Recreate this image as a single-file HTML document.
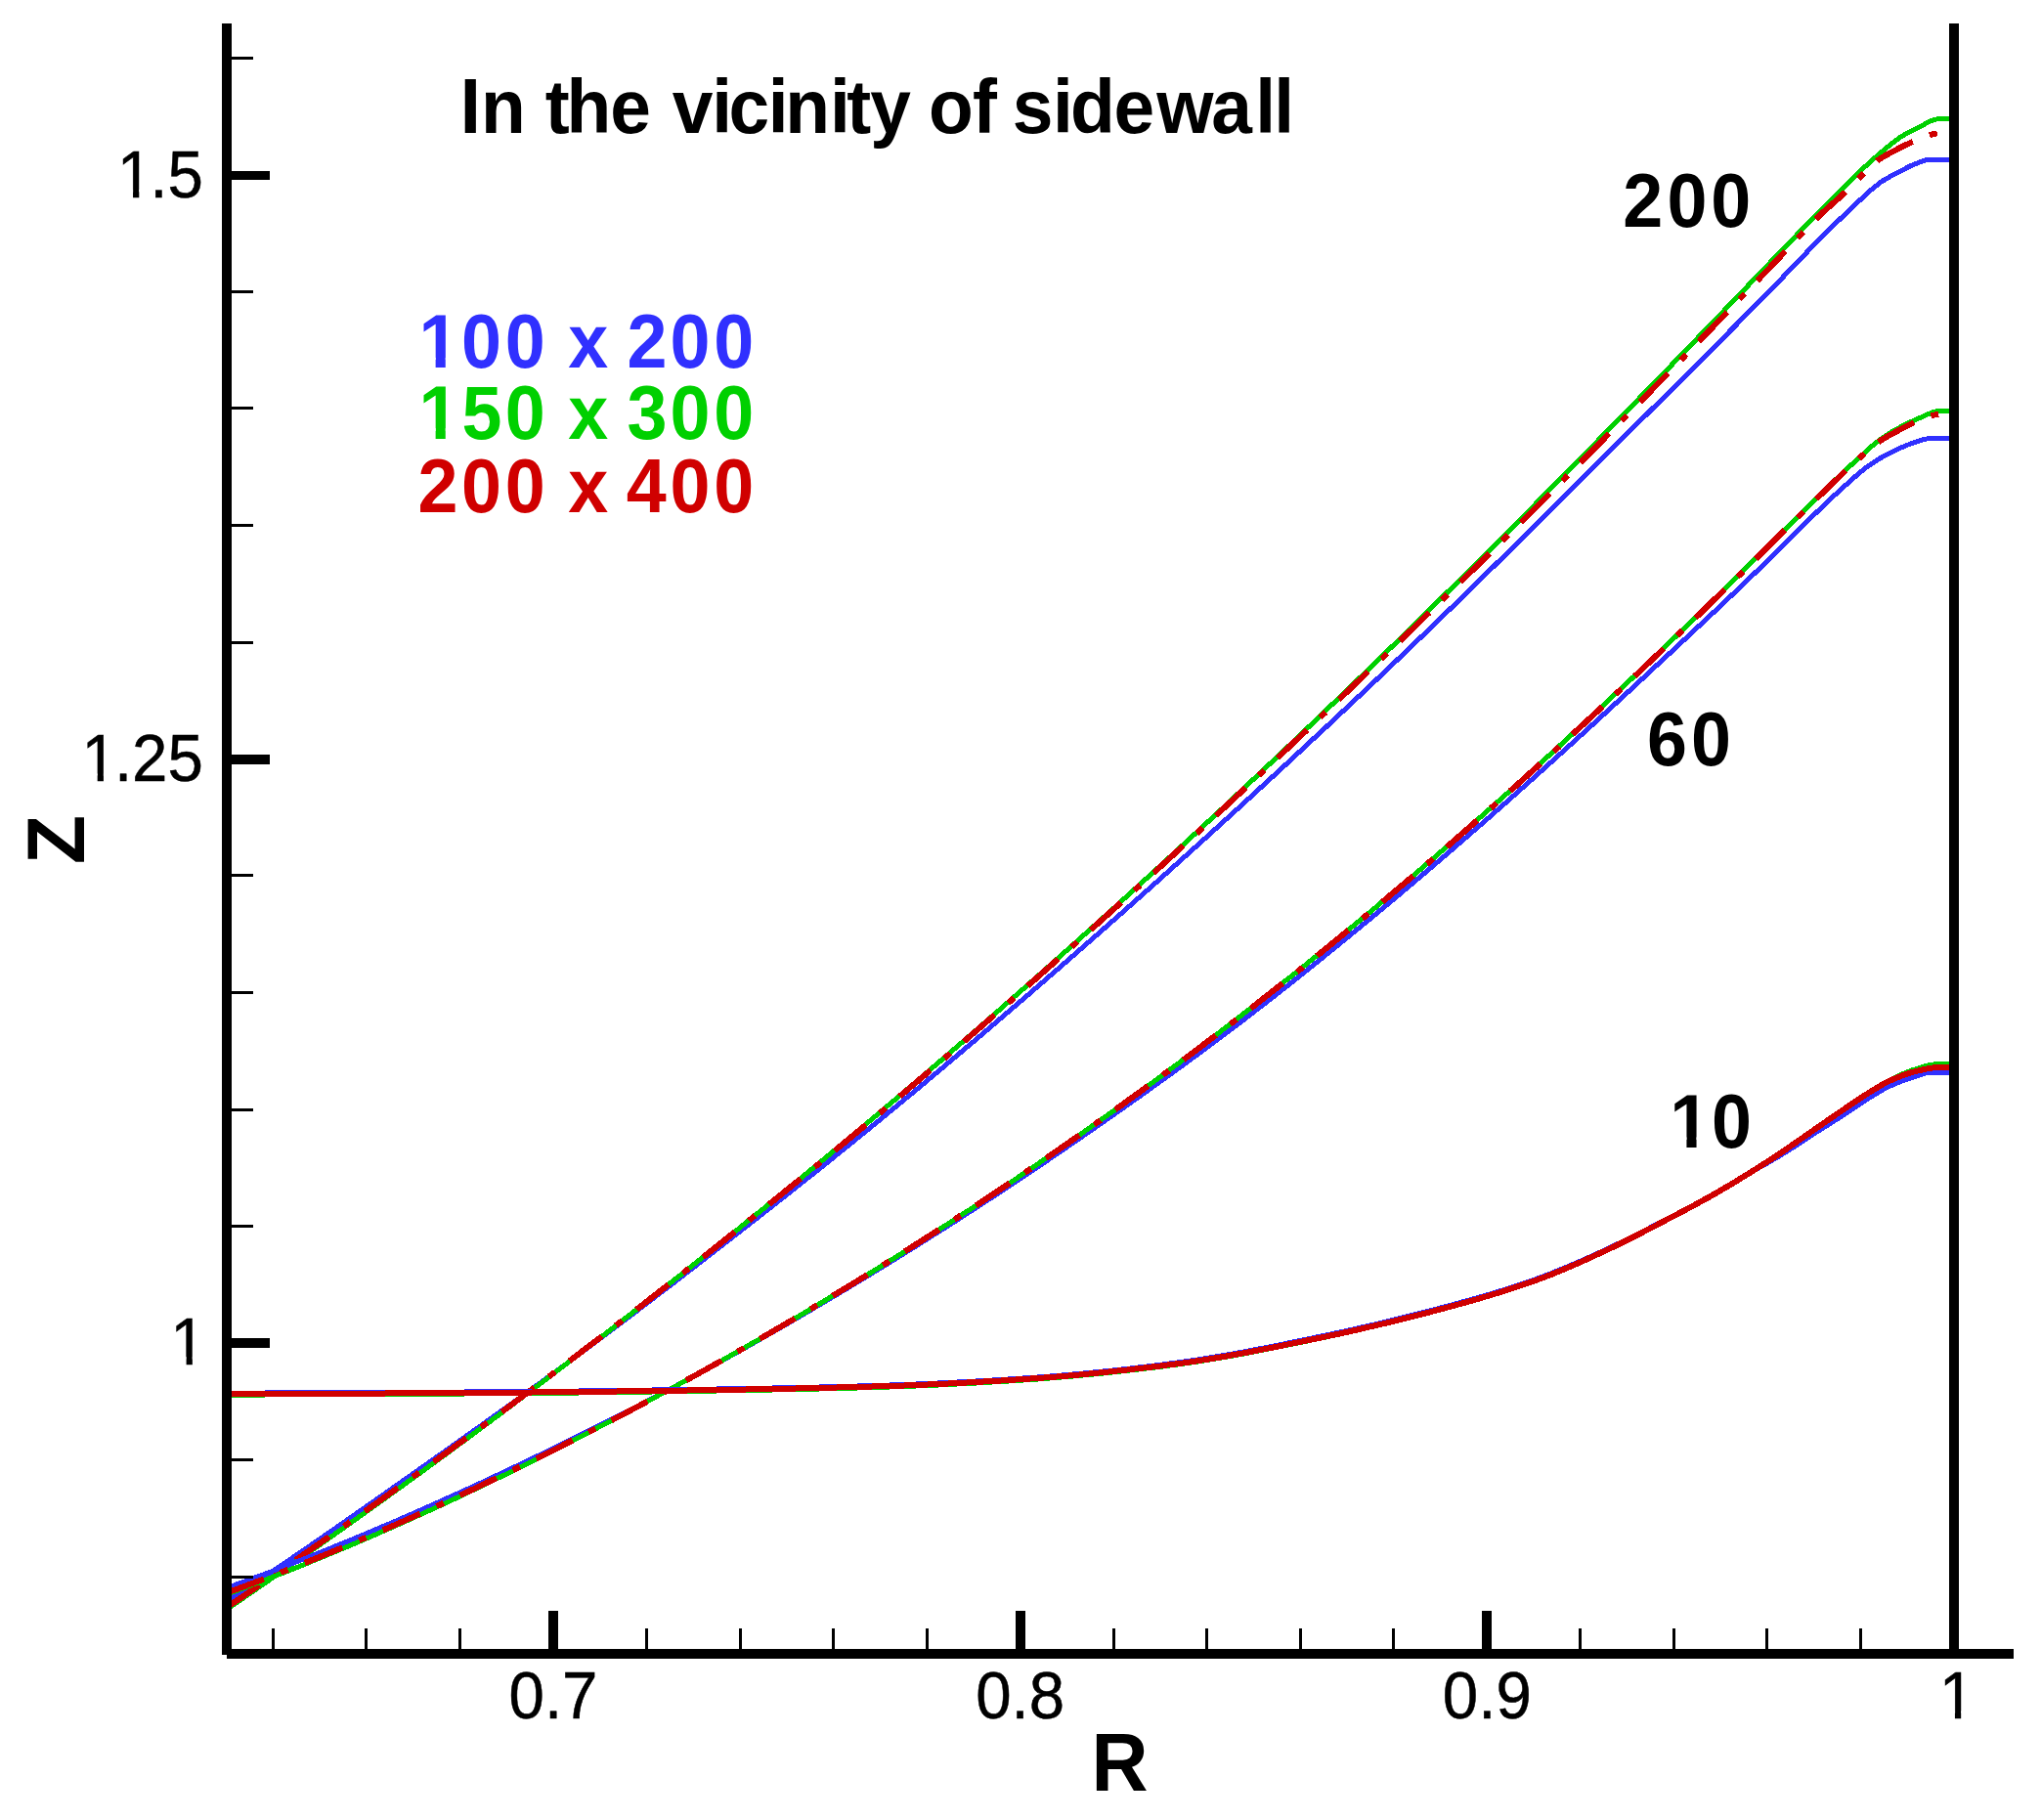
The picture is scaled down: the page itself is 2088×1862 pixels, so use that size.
<!DOCTYPE html>
<html><head><meta charset="utf-8"><title>In the vicinity of sidewall</title>
<style>
html,body{margin:0;padding:0;background:#fff;}
svg{display:block;}
text{font-family:"Liberation Sans",Arial,Helvetica,sans-serif;font-kerning:none;white-space:pre;}
</style></head>
<body>
<svg width="2088" height="1862" viewBox="0 0 2088 1862">
<rect width="2088" height="1862" fill="#fff"/>
<defs><clipPath id="plot"><rect x="232" y="24" width="1767" height="1668"/></clipPath></defs>
<g clip-path="url(#plot)" stroke-linejoin="round" shape-rendering="crispEdges">
<path d="M232.0,1638.5 L235.0,1636.6 L238.0,1634.6 L241.0,1632.6 L244.0,1630.7 L247.0,1628.7 L250.0,1626.7 L253.0,1624.7 L256.0,1622.7 L259.0,1620.8 L262.0,1618.8 L265.0,1616.8 L268.0,1614.8 L271.0,1612.8 L274.0,1610.8 L277.0,1608.8 L280.0,1606.7 L283.0,1604.7 L286.0,1602.7 L289.0,1600.7 L292.0,1598.7 L295.0,1596.6 L298.0,1594.6 L301.0,1592.5 L304.0,1590.5 L307.0,1588.4 L310.0,1586.4 L313.0,1584.3 L316.0,1582.3 L319.0,1580.2 L322.0,1578.1 L325.0,1576.1 L328.0,1574.0 L331.0,1571.9 L334.0,1569.8 L337.0,1567.8 L340.0,1565.7 L343.0,1563.6 L346.0,1561.5 L349.0,1559.4 L352.0,1557.3 L355.0,1555.2 L358.0,1553.1 L361.0,1551.0 L364.0,1548.9 L367.0,1546.8 L370.0,1544.7 L373.0,1542.6 L376.0,1540.5 L379.0,1538.4 L382.0,1536.3 L385.0,1534.2 L388.0,1532.1 L391.0,1530.0 L394.0,1527.8 L397.0,1525.7 L400.0,1523.6 L403.0,1521.5 L406.0,1519.4 L409.0,1517.3 L412.0,1515.2 L415.0,1513.1 L418.0,1511.0 L421.0,1508.8 L424.0,1506.7 L427.0,1504.6 L430.0,1502.5 L433.0,1500.4 L436.0,1498.3 L439.0,1496.2 L442.0,1494.0 L445.0,1491.9 L448.0,1489.8 L451.0,1487.7 L454.0,1485.6 L457.0,1483.4 L460.0,1481.3 L463.0,1479.2 L466.0,1477.1 L469.0,1474.9 L472.0,1472.8 L475.0,1470.7 L478.0,1468.5 L481.0,1466.4 L484.0,1464.2 L487.0,1462.1 L490.0,1460.0 L493.0,1457.8 L496.0,1455.7 L499.0,1453.5 L502.0,1451.4 L505.0,1449.2 L508.0,1447.1 L511.0,1444.9 L514.0,1442.8 L517.0,1440.6 L520.0,1438.5 L523.0,1436.3 L526.0,1434.1 L529.0,1432.0 L532.0,1429.8 L535.0,1427.6 L538.0,1425.5 L541.0,1423.3 L544.0,1421.1 L547.0,1418.9 L550.0,1416.8 L553.0,1414.6 L556.0,1412.4 L559.0,1410.2 L562.0,1408.0 L565.0,1405.8 L568.0,1403.6 L571.0,1401.4 L574.0,1399.2 L577.0,1397.0 L580.0,1394.8 L583.0,1392.5 L586.0,1390.3 L589.0,1388.1 L592.0,1385.9 L595.0,1383.6 L598.0,1381.4 L601.0,1379.2 L604.0,1376.9 L607.0,1374.7 L610.0,1372.4 L613.0,1370.2 L616.0,1367.9 L619.0,1365.7 L622.0,1363.4 L625.0,1361.2 L628.0,1358.9 L631.0,1356.7 L634.0,1354.4 L637.0,1352.1 L640.0,1349.9 L643.0,1347.6 L646.0,1345.3 L649.0,1343.0 L652.0,1340.8 L655.0,1338.5 L658.0,1336.2 L661.0,1333.9 L664.0,1331.6 L667.0,1329.3 L670.0,1327.0 L673.0,1324.7 L676.0,1322.5 L679.0,1320.2 L682.0,1317.9 L685.0,1315.6 L688.0,1313.3 L691.0,1311.0 L694.0,1308.6 L697.0,1306.3 L700.0,1304.0 L703.0,1301.7 L706.0,1299.4 L709.0,1297.1 L712.0,1294.8 L715.0,1292.5 L718.0,1290.1 L721.0,1287.8 L724.0,1285.5 L727.0,1283.2 L730.0,1280.9 L733.0,1278.5 L736.0,1276.2 L739.0,1273.9 L742.0,1271.5 L745.0,1269.2 L748.0,1266.9 L751.0,1264.5 L754.0,1262.2 L757.0,1259.9 L760.0,1257.5 L763.0,1255.2 L766.0,1252.8 L769.0,1250.5 L772.0,1248.2 L775.0,1245.8 L778.0,1243.5 L781.0,1241.1 L784.0,1238.7 L787.0,1236.4 L790.0,1234.0 L793.0,1231.7 L796.0,1229.3 L799.0,1226.9 L802.0,1224.6 L805.0,1222.2 L808.0,1219.8 L811.0,1217.5 L814.0,1215.1 L817.0,1212.7 L820.0,1210.3 L823.0,1207.9 L826.0,1205.5 L829.0,1203.2 L832.0,1200.8 L835.0,1198.4 L838.0,1196.0 L841.0,1193.6 L844.0,1191.2 L847.0,1188.8 L850.0,1186.4 L853.0,1183.9 L856.0,1181.5 L859.0,1179.1 L862.0,1176.7 L865.0,1174.3 L868.0,1171.8 L871.0,1169.4 L874.0,1167.0 L877.0,1164.5 L880.0,1162.1 L883.0,1159.7 L886.0,1157.2 L889.0,1154.8 L892.0,1152.3 L895.0,1149.9 L898.0,1147.4 L901.0,1144.9 L904.0,1142.5 L907.0,1140.0 L910.0,1137.5 L913.0,1135.1 L916.0,1132.6 L919.0,1130.1 L922.0,1127.6 L925.0,1125.1 L928.0,1122.7 L931.0,1120.2 L934.0,1117.7 L937.0,1115.2 L940.0,1112.7 L943.0,1110.2 L946.0,1107.7 L949.0,1105.2 L952.0,1102.6 L955.0,1100.1 L958.0,1097.6 L961.0,1095.1 L964.0,1092.6 L967.0,1090.0 L970.0,1087.5 L973.0,1085.0 L976.0,1082.5 L979.0,1079.9 L982.0,1077.4 L985.0,1074.8 L988.0,1072.3 L991.0,1069.8 L994.0,1067.2 L997.0,1064.7 L1000.0,1062.1 L1003.0,1059.6 L1006.0,1057.0 L1009.0,1054.4 L1012.0,1051.9 L1015.0,1049.3 L1018.0,1046.8 L1021.0,1044.2 L1024.0,1041.6 L1027.0,1039.1 L1030.0,1036.5 L1033.0,1033.9 L1036.0,1031.3 L1039.0,1028.7 L1042.0,1026.2 L1045.0,1023.6 L1048.0,1021.0 L1051.0,1018.4 L1054.0,1015.8 L1057.0,1013.2 L1060.0,1010.6 L1063.0,1008.0 L1066.0,1005.4 L1069.0,1002.8 L1072.0,1000.2 L1075.0,997.6 L1078.0,995.0 L1081.0,992.4 L1084.0,989.8 L1087.0,987.2 L1090.0,984.6 L1093.0,982.0 L1096.0,979.4 L1099.0,976.7 L1102.0,974.1 L1105.0,971.5 L1108.0,968.9 L1111.0,966.2 L1114.0,963.6 L1117.0,961.0 L1120.0,958.3 L1123.0,955.7 L1126.0,953.1 L1129.0,950.4 L1132.0,947.8 L1135.0,945.1 L1138.0,942.5 L1141.0,939.9 L1144.0,937.2 L1147.0,934.6 L1150.0,931.9 L1153.0,929.2 L1156.0,926.6 L1159.0,923.9 L1162.0,921.3 L1165.0,918.6 L1168.0,915.9 L1171.0,913.3 L1174.0,910.6 L1177.0,907.9 L1180.0,905.2 L1183.0,902.6 L1186.0,899.9 L1189.0,897.2 L1192.0,894.5 L1195.0,891.8 L1198.0,889.1 L1201.0,886.4 L1204.0,883.7 L1207.0,881.0 L1210.0,878.3 L1213.0,875.6 L1216.0,872.9 L1219.0,870.2 L1222.0,867.5 L1225.0,864.8 L1228.0,862.1 L1231.0,859.4 L1234.0,856.7 L1237.0,854.0 L1240.0,851.2 L1243.0,848.5 L1246.0,845.8 L1249.0,843.1 L1252.0,840.3 L1255.0,837.6 L1258.0,834.9 L1261.0,832.1 L1264.0,829.4 L1267.0,826.7 L1270.0,823.9 L1273.0,821.2 L1276.0,818.4 L1279.0,815.7 L1282.0,812.9 L1285.0,810.2 L1288.0,807.4 L1291.0,804.6 L1294.0,801.9 L1297.0,799.1 L1300.0,796.4 L1303.0,793.6 L1306.0,790.8 L1309.0,788.0 L1312.0,785.3 L1315.0,782.5 L1318.0,779.7 L1321.0,776.9 L1324.0,774.2 L1327.0,771.4 L1330.0,768.6 L1333.0,765.8 L1336.0,763.0 L1339.0,760.2 L1342.0,757.4 L1345.0,754.6 L1348.0,751.9 L1351.0,749.1 L1354.0,746.3 L1357.0,743.5 L1360.0,740.6 L1363.0,737.8 L1366.0,735.0 L1369.0,732.2 L1372.0,729.4 L1375.0,726.6 L1378.0,723.8 L1381.0,721.0 L1384.0,718.1 L1387.0,715.3 L1390.0,712.5 L1393.0,709.7 L1396.0,706.8 L1399.0,704.0 L1402.0,701.2 L1405.0,698.3 L1408.0,695.5 L1411.0,692.6 L1414.0,689.8 L1417.0,686.9 L1420.0,684.1 L1423.0,681.2 L1426.0,678.4 L1429.0,675.5 L1432.0,672.6 L1435.0,669.8 L1438.0,666.9 L1441.0,664.0 L1444.0,661.2 L1447.0,658.3 L1450.0,655.4 L1453.0,652.5 L1456.0,649.6 L1459.0,646.7 L1462.0,643.8 L1465.0,640.9 L1468.0,638.0 L1471.0,635.1 L1474.0,632.2 L1477.0,629.3 L1480.0,626.4 L1483.0,623.5 L1486.0,620.6 L1489.0,617.7 L1492.0,614.7 L1495.0,611.8 L1498.0,608.9 L1501.0,606.0 L1504.0,603.0 L1507.0,600.1 L1510.0,597.1 L1513.0,594.2 L1516.0,591.3 L1519.0,588.3 L1522.0,585.4 L1525.0,582.4 L1528.0,579.5 L1531.0,576.5 L1534.0,573.6 L1537.0,570.6 L1540.0,567.6 L1543.0,564.7 L1546.0,561.7 L1549.0,558.8 L1552.0,555.8 L1555.0,552.8 L1558.0,549.9 L1561.0,546.9 L1564.0,543.9 L1567.0,540.9 L1570.0,538.0 L1573.0,535.0 L1576.0,532.0 L1579.0,529.0 L1582.0,526.0 L1585.0,523.1 L1588.0,520.1 L1591.0,517.1 L1594.0,514.1 L1597.0,511.1 L1600.0,508.1 L1603.0,505.1 L1606.0,502.1 L1609.0,499.2 L1612.0,496.2 L1615.0,493.2 L1618.0,490.2 L1621.0,487.2 L1624.0,484.2 L1627.0,481.2 L1630.0,478.2 L1633.0,475.2 L1636.0,472.2 L1639.0,469.2 L1642.0,466.2 L1645.0,463.2 L1648.0,460.2 L1651.0,457.3 L1654.0,454.3 L1657.0,451.3 L1660.0,448.3 L1663.0,445.3 L1666.0,442.3 L1669.0,439.3 L1672.0,436.4 L1675.0,433.4 L1678.0,430.4 L1681.0,427.4 L1684.0,424.5 L1687.0,421.5 L1690.0,418.5 L1693.0,415.6 L1696.0,412.6 L1699.0,409.6 L1702.0,406.6 L1705.0,403.7 L1708.0,400.7 L1711.0,397.7 L1714.0,394.7 L1717.0,391.7 L1720.0,388.7 L1723.0,385.7 L1726.0,382.7 L1729.0,379.7 L1732.0,376.7 L1735.0,373.7 L1738.0,370.7 L1741.0,367.7 L1744.0,364.7 L1747.0,361.7 L1750.0,358.7 L1753.0,355.6 L1756.0,352.6 L1759.0,349.6 L1762.0,346.6 L1765.0,343.6 L1768.0,340.6 L1771.0,337.5 L1774.0,334.5 L1777.0,331.5 L1780.0,328.4 L1783.0,325.4 L1786.0,322.4 L1789.0,319.3 L1792.0,316.3 L1795.0,313.2 L1798.0,310.2 L1801.0,307.1 L1804.0,304.0 L1807.0,301.0 L1810.0,297.9 L1813.0,294.8 L1816.0,291.8 L1819.0,288.7 L1822.0,285.6 L1825.0,282.5 L1828.0,279.4 L1831.0,276.3 L1834.0,273.2 L1837.0,270.0 L1840.0,266.9 L1843.0,263.8 L1846.0,260.7 L1849.0,257.5 L1852.0,254.4 L1855.0,251.4 L1858.0,248.3 L1861.0,245.2 L1864.0,242.2 L1867.0,239.2 L1870.0,236.2 L1873.0,233.3 L1876.0,230.3 L1879.0,227.4 L1882.0,224.5 L1885.0,221.6 L1888.0,218.7 L1891.0,215.9 L1894.0,213.1 L1897.0,210.2 L1900.0,207.4 L1903.0,204.5 L1906.0,201.7 L1909.0,198.9 L1912.0,196.3 L1915.0,193.6 L1918.0,191.2 L1921.0,188.8 L1924.0,186.5 L1927.0,184.5 L1930.0,182.7 L1933.0,181.0 L1936.0,179.4 L1939.0,177.9 L1942.0,176.3 L1945.0,174.7 L1948.0,173.1 L1951.0,171.5 L1954.0,170.0 L1957.0,168.7 L1960.0,167.5 L1963.0,166.3 L1966.0,165.1 L1969.0,164.1 L1972.0,163.5 L1975.0,163.4 L1978.0,163.4 L1981.0,163.4 L1984.0,163.4 L1987.0,163.4 L1990.0,163.4 L1993.0,163.4 L1996.0,163.4 L1999.0,163.4" fill="none" stroke="#3030ff" stroke-width="5.0"/>
<path d="M232.0,1646.5 L235.0,1644.5 L238.0,1642.4 L241.0,1640.4 L244.0,1638.3 L247.0,1636.2 L250.0,1634.2 L253.0,1632.1 L256.0,1630.0 L259.0,1628.0 L262.0,1625.9 L265.0,1623.8 L268.0,1621.8 L271.0,1619.7 L274.0,1617.6 L277.0,1615.5 L280.0,1613.4 L283.0,1611.3 L286.0,1609.3 L289.0,1607.2 L292.0,1605.1 L295.0,1603.0 L298.0,1600.9 L301.0,1598.8 L304.0,1596.7 L307.0,1594.6 L310.0,1592.5 L313.0,1590.4 L316.0,1588.3 L319.0,1586.2 L322.0,1584.1 L325.0,1582.0 L328.0,1579.8 L331.0,1577.7 L334.0,1575.6 L337.0,1573.5 L340.0,1571.4 L343.0,1569.2 L346.0,1567.1 L349.0,1565.0 L352.0,1562.9 L355.0,1560.7 L358.0,1558.6 L361.0,1556.5 L364.0,1554.3 L367.0,1552.2 L370.0,1550.0 L373.0,1547.9 L376.0,1545.8 L379.0,1543.6 L382.0,1541.5 L385.0,1539.3 L388.0,1537.2 L391.0,1535.0 L394.0,1532.8 L397.0,1530.7 L400.0,1528.5 L403.0,1526.4 L406.0,1524.2 L409.0,1522.0 L412.0,1519.9 L415.0,1517.7 L418.0,1515.5 L421.0,1513.3 L424.0,1511.2 L427.0,1509.0 L430.0,1506.8 L433.0,1504.6 L436.0,1502.4 L439.0,1500.2 L442.0,1498.1 L445.0,1495.9 L448.0,1493.7 L451.0,1491.5 L454.0,1489.3 L457.0,1487.1 L460.0,1484.9 L463.0,1482.7 L466.0,1480.4 L469.0,1478.2 L472.0,1476.0 L475.0,1473.8 L478.0,1471.6 L481.0,1469.4 L484.0,1467.1 L487.0,1464.9 L490.0,1462.7 L493.0,1460.5 L496.0,1458.2 L499.0,1456.0 L502.0,1453.8 L505.0,1451.5 L508.0,1449.3 L511.0,1447.0 L514.0,1444.8 L517.0,1442.5 L520.0,1440.3 L523.0,1438.0 L526.0,1435.8 L529.0,1433.5 L532.0,1431.3 L535.0,1429.0 L538.0,1426.7 L541.0,1424.5 L544.0,1422.2 L547.0,1419.9 L550.0,1417.7 L553.0,1415.4 L556.0,1413.1 L559.0,1410.8 L562.0,1408.5 L565.0,1406.3 L568.0,1404.0 L571.0,1401.7 L574.0,1399.4 L577.0,1397.1 L580.0,1394.8 L583.0,1392.5 L586.0,1390.2 L589.0,1387.9 L592.0,1385.6 L595.0,1383.3 L598.0,1381.0 L601.0,1378.7 L604.0,1376.4 L607.0,1374.1 L610.0,1371.8 L613.0,1369.4 L616.0,1367.1 L619.0,1364.8 L622.0,1362.5 L625.0,1360.2 L628.0,1357.8 L631.0,1355.5 L634.0,1353.2 L637.0,1350.8 L640.0,1348.5 L643.0,1346.2 L646.0,1343.8 L649.0,1341.5 L652.0,1339.2 L655.0,1336.8 L658.0,1334.5 L661.0,1332.1 L664.0,1329.8 L667.0,1327.4 L670.0,1325.1 L673.0,1322.7 L676.0,1320.4 L679.0,1318.0 L682.0,1315.6 L685.0,1313.3 L688.0,1310.9 L691.0,1308.5 L694.0,1306.2 L697.0,1303.8 L700.0,1301.4 L703.0,1299.1 L706.0,1296.7 L709.0,1294.3 L712.0,1291.9 L715.0,1289.5 L718.0,1287.2 L721.0,1284.8 L724.0,1282.4 L727.0,1280.0 L730.0,1277.6 L733.0,1275.2 L736.0,1272.8 L739.0,1270.4 L742.0,1268.0 L745.0,1265.6 L748.0,1263.2 L751.0,1260.8 L754.0,1258.4 L757.0,1256.0 L760.0,1253.5 L763.0,1251.1 L766.0,1248.7 L769.0,1246.3 L772.0,1243.9 L775.0,1241.4 L778.0,1239.0 L781.0,1236.6 L784.0,1234.1 L787.0,1231.7 L790.0,1229.3 L793.0,1226.8 L796.0,1224.4 L799.0,1221.9 L802.0,1219.5 L805.0,1217.0 L808.0,1214.6 L811.0,1212.1 L814.0,1209.7 L817.0,1207.2 L820.0,1204.7 L823.0,1202.3 L826.0,1199.8 L829.0,1197.3 L832.0,1194.9 L835.0,1192.4 L838.0,1189.9 L841.0,1187.4 L844.0,1185.0 L847.0,1182.5 L850.0,1180.0 L853.0,1177.5 L856.0,1175.0 L859.0,1172.5 L862.0,1170.0 L865.0,1167.5 L868.0,1165.0 L871.0,1162.5 L874.0,1160.0 L877.0,1157.5 L880.0,1155.0 L883.0,1152.5 L886.0,1150.0 L889.0,1147.5 L892.0,1144.9 L895.0,1142.4 L898.0,1139.9 L901.0,1137.4 L904.0,1134.8 L907.0,1132.3 L910.0,1129.8 L913.0,1127.2 L916.0,1124.7 L919.0,1122.2 L922.0,1119.6 L925.0,1117.1 L928.0,1114.5 L931.0,1112.0 L934.0,1109.4 L937.0,1106.9 L940.0,1104.3 L943.0,1101.8 L946.0,1099.2 L949.0,1096.6 L952.0,1094.1 L955.0,1091.5 L958.0,1088.9 L961.0,1086.4 L964.0,1083.8 L967.0,1081.2 L970.0,1078.6 L973.0,1076.0 L976.0,1073.5 L979.0,1070.9 L982.0,1068.3 L985.0,1065.7 L988.0,1063.1 L991.0,1060.5 L994.0,1057.9 L997.0,1055.3 L1000.0,1052.7 L1003.0,1050.1 L1006.0,1047.5 L1009.0,1044.9 L1012.0,1042.3 L1015.0,1039.6 L1018.0,1037.0 L1021.0,1034.4 L1024.0,1031.8 L1027.0,1029.2 L1030.0,1026.5 L1033.0,1023.9 L1036.0,1021.3 L1039.0,1018.6 L1042.0,1016.0 L1045.0,1013.4 L1048.0,1010.7 L1051.0,1008.1 L1054.0,1005.4 L1057.0,1002.8 L1060.0,1000.1 L1063.0,997.5 L1066.0,994.8 L1069.0,992.2 L1072.0,989.5 L1075.0,986.8 L1078.0,984.2 L1081.0,981.5 L1084.0,978.8 L1087.0,976.2 L1090.0,973.5 L1093.0,970.8 L1096.0,968.1 L1099.0,965.5 L1102.0,962.8 L1105.0,960.1 L1108.0,957.4 L1111.0,954.7 L1114.0,952.0 L1117.0,949.3 L1120.0,946.6 L1123.0,943.9 L1126.0,941.2 L1129.0,938.5 L1132.0,935.8 L1135.0,933.1 L1138.0,930.4 L1141.0,927.7 L1144.0,925.0 L1147.0,922.2 L1150.0,919.5 L1153.0,916.8 L1156.0,914.1 L1159.0,911.3 L1162.0,908.6 L1165.0,905.9 L1168.0,903.2 L1171.0,900.4 L1174.0,897.7 L1177.0,894.9 L1180.0,892.2 L1183.0,889.4 L1186.0,886.7 L1189.0,883.9 L1192.0,881.2 L1195.0,878.4 L1198.0,875.7 L1201.0,872.9 L1204.0,870.2 L1207.0,867.4 L1210.0,864.6 L1213.0,861.9 L1216.0,859.1 L1219.0,856.3 L1222.0,853.5 L1225.0,850.8 L1228.0,848.0 L1231.0,845.2 L1234.0,842.4 L1237.0,839.6 L1240.0,836.8 L1243.0,834.0 L1246.0,831.2 L1249.0,828.5 L1252.0,825.7 L1255.0,822.9 L1258.0,820.0 L1261.0,817.2 L1264.0,814.4 L1267.0,811.6 L1270.0,808.8 L1273.0,806.0 L1276.0,803.2 L1279.0,800.4 L1282.0,797.5 L1285.0,794.7 L1288.0,791.9 L1291.0,789.1 L1294.0,786.2 L1297.0,783.4 L1300.0,780.6 L1303.0,777.7 L1306.0,774.9 L1309.0,772.1 L1312.0,769.2 L1315.0,766.4 L1318.0,763.5 L1321.0,760.7 L1324.0,757.8 L1327.0,755.0 L1330.0,752.1 L1333.0,749.2 L1336.0,746.4 L1339.0,743.5 L1342.0,740.7 L1345.0,737.8 L1348.0,734.9 L1351.0,732.0 L1354.0,729.2 L1357.0,726.3 L1360.0,723.4 L1363.0,720.5 L1366.0,717.7 L1369.0,714.8 L1372.0,711.9 L1375.0,709.0 L1378.0,706.1 L1381.0,703.2 L1384.0,700.3 L1387.0,697.4 L1390.0,694.5 L1393.0,691.6 L1396.0,688.7 L1399.0,685.8 L1402.0,682.9 L1405.0,680.0 L1408.0,677.1 L1411.0,674.2 L1414.0,671.2 L1417.0,668.3 L1420.0,665.4 L1423.0,662.5 L1426.0,659.6 L1429.0,656.6 L1432.0,653.7 L1435.0,650.8 L1438.0,647.8 L1441.0,644.9 L1444.0,642.0 L1447.0,639.0 L1450.0,636.1 L1453.0,633.1 L1456.0,630.2 L1459.0,627.2 L1462.0,624.3 L1465.0,621.3 L1468.0,618.4 L1471.0,615.4 L1474.0,612.5 L1477.0,609.5 L1480.0,606.5 L1483.0,603.6 L1486.0,600.6 L1489.0,597.6 L1492.0,594.6 L1495.0,591.7 L1498.0,588.7 L1501.0,585.7 L1504.0,582.7 L1507.0,579.7 L1510.0,576.8 L1513.0,573.8 L1516.0,570.8 L1519.0,567.8 L1522.0,564.8 L1525.0,561.8 L1528.0,558.8 L1531.0,555.8 L1534.0,552.8 L1537.0,549.8 L1540.0,546.8 L1543.0,543.7 L1546.0,540.7 L1549.0,537.7 L1552.0,534.7 L1555.0,531.7 L1558.0,528.7 L1561.0,525.6 L1564.0,522.6 L1567.0,519.6 L1570.0,516.6 L1573.0,513.5 L1576.0,510.5 L1579.0,507.5 L1582.0,504.4 L1585.0,501.4 L1588.0,498.4 L1591.0,495.3 L1594.0,492.3 L1597.0,489.2 L1600.0,486.2 L1603.0,483.1 L1606.0,480.1 L1609.0,477.0 L1612.0,474.0 L1615.0,470.9 L1618.0,467.9 L1621.0,464.8 L1624.0,461.8 L1627.0,458.7 L1630.0,455.7 L1633.0,452.6 L1636.0,449.5 L1639.0,446.5 L1642.0,443.4 L1645.0,440.4 L1648.0,437.3 L1651.0,434.2 L1654.0,431.1 L1657.0,428.1 L1660.0,425.0 L1663.0,421.9 L1666.0,418.8 L1669.0,415.8 L1672.0,412.7 L1675.0,409.6 L1678.0,406.5 L1681.0,403.4 L1684.0,400.3 L1687.0,397.3 L1690.0,394.2 L1693.0,391.1 L1696.0,388.0 L1699.0,384.9 L1702.0,381.8 L1705.0,378.7 L1708.0,375.6 L1711.0,372.5 L1714.0,369.4 L1717.0,366.3 L1720.0,363.2 L1723.0,360.1 L1726.0,357.0 L1729.0,353.9 L1732.0,350.7 L1735.0,347.6 L1738.0,344.5 L1741.0,341.4 L1744.0,338.3 L1747.0,335.2 L1750.0,332.1 L1753.0,328.9 L1756.0,325.8 L1759.0,322.7 L1762.0,319.6 L1765.0,316.5 L1768.0,313.3 L1771.0,310.2 L1774.0,307.1 L1777.0,304.0 L1780.0,300.9 L1783.0,297.7 L1786.0,294.6 L1789.0,291.5 L1792.0,288.4 L1795.0,285.3 L1798.0,282.1 L1801.0,279.0 L1804.0,275.9 L1807.0,272.8 L1810.0,269.6 L1813.0,266.5 L1816.0,263.4 L1819.0,260.3 L1822.0,257.2 L1825.0,254.1 L1828.0,251.0 L1831.0,247.9 L1834.0,244.8 L1837.0,241.6 L1840.0,238.5 L1843.0,235.4 L1846.0,232.3 L1849.0,229.2 L1852.0,226.1 L1855.0,223.0 L1858.0,220.0 L1861.0,216.9 L1864.0,213.8 L1867.0,210.8 L1870.0,207.7 L1873.0,204.7 L1876.0,201.7 L1879.0,198.7 L1882.0,195.7 L1885.0,192.7 L1888.0,189.7 L1891.0,186.8 L1894.0,183.8 L1897.0,180.9 L1900.0,178.0 L1903.0,175.2 L1906.0,172.3 L1909.0,169.6 L1912.0,166.8 L1915.0,164.1 L1918.0,161.5 L1921.0,158.8 L1924.0,156.3 L1927.0,153.8 L1930.0,151.3 L1933.0,148.8 L1936.0,146.3 L1939.0,144.0 L1942.0,141.8 L1945.0,139.8 L1948.0,138.0 L1951.0,136.4 L1954.0,134.9 L1957.0,133.4 L1960.0,131.9 L1963.0,130.4 L1966.0,128.8 L1969.0,127.0 L1972.0,125.3 L1975.0,123.8 L1978.0,122.7 L1981.0,122.0 L1984.0,121.5 L1987.0,121.5 L1990.0,121.5 L1993.0,121.5 L1996.0,121.5 L1999.0,121.5" fill="none" stroke="#00d000" stroke-width="5.0"/>
<path d="M232.0,1644.5 L235.0,1642.5 L238.0,1640.4 L241.0,1638.4 L244.0,1636.3 L247.0,1634.3 L250.0,1632.2 L253.0,1630.2 L256.0,1628.1 L259.0,1626.1 L262.0,1624.0 L265.0,1621.9 L268.0,1619.9 L271.0,1617.8 L274.0,1615.7 L277.0,1613.7 L280.0,1611.6 L283.0,1609.5 L286.0,1607.4 L289.0,1605.4 L292.0,1603.3 L295.0,1601.2 L298.0,1599.1 L301.0,1597.0 L304.0,1594.9 L307.0,1592.8 L310.0,1590.8 L313.0,1588.7 L316.0,1586.6 L319.0,1584.5 L322.0,1582.4 L325.0,1580.3 L328.0,1578.2 L331.0,1576.1 L334.0,1574.0 L337.0,1571.9 L340.0,1569.7 L343.0,1567.6 L346.0,1565.5 L349.0,1563.4 L352.0,1561.3 L355.0,1559.2 L358.0,1557.0 L361.0,1554.9 L364.0,1552.8 L367.0,1550.7 L370.0,1548.5 L373.0,1546.4 L376.0,1544.3 L379.0,1542.1 L382.0,1540.0 L385.0,1537.9 L388.0,1535.7 L391.0,1533.6 L394.0,1531.4 L397.0,1529.3 L400.0,1527.1 L403.0,1525.0 L406.0,1522.8 L409.0,1520.7 L412.0,1518.5 L415.0,1516.3 L418.0,1514.2 L421.0,1512.0 L424.0,1509.9 L427.0,1507.7 L430.0,1505.5 L433.0,1503.3 L436.0,1501.2 L439.0,1499.0 L442.0,1496.8 L445.0,1494.6 L448.0,1492.5 L451.0,1490.3 L454.0,1488.1 L457.0,1485.9 L460.0,1483.7 L463.0,1481.5 L466.0,1479.3 L469.0,1477.1 L472.0,1474.9 L475.0,1472.7 L478.0,1470.5 L481.0,1468.3 L484.0,1466.1 L487.0,1463.9 L490.0,1461.7 L493.0,1459.5 L496.0,1457.3 L499.0,1455.0 L502.0,1452.8 L505.0,1450.6 L508.0,1448.4 L511.0,1446.1 L514.0,1443.9 L517.0,1441.7 L520.0,1439.5 L523.0,1437.2 L526.0,1435.0 L529.0,1432.7 L532.0,1430.5 L535.0,1428.3 L538.0,1426.0 L541.0,1423.8 L544.0,1421.5 L547.0,1419.3 L550.0,1417.0 L553.0,1414.8 L556.0,1412.5 L559.0,1410.2 L562.0,1408.0 L565.0,1405.7 L568.0,1403.4 L571.0,1401.2 L574.0,1398.9 L577.0,1396.6 L580.0,1394.3 L583.0,1392.1 L586.0,1389.8 L589.0,1387.5 L592.0,1385.2 L595.0,1382.9 L598.0,1380.6 L601.0,1378.3 L604.0,1376.0 L607.0,1373.8 L610.0,1371.5 L613.0,1369.2 L616.0,1366.8 L619.0,1364.5 L622.0,1362.2 L625.0,1359.9 L628.0,1357.6 L631.0,1355.3 L634.0,1353.0 L637.0,1350.7 L640.0,1348.3 L643.0,1346.0 L646.0,1343.7 L649.0,1341.4 L652.0,1339.0 L655.0,1336.7 L658.0,1334.4 L661.0,1332.0 L664.0,1329.7 L667.0,1327.3 L670.0,1325.0 L673.0,1322.7 L676.0,1320.3 L679.0,1318.0 L682.0,1315.6 L685.0,1313.2 L688.0,1310.9 L691.0,1308.5 L694.0,1306.2 L697.0,1303.8 L700.0,1301.4 L703.0,1299.1 L706.0,1296.7 L709.0,1294.3 L712.0,1291.9 L715.0,1289.6 L718.0,1287.2 L721.0,1284.8 L724.0,1282.4 L727.0,1280.0 L730.0,1277.7 L733.0,1275.3 L736.0,1272.9 L739.0,1270.5 L742.0,1268.1 L745.0,1265.7 L748.0,1263.3 L751.0,1260.9 L754.0,1258.5 L757.0,1256.1 L760.0,1253.7 L763.0,1251.3 L766.0,1248.9 L769.0,1246.5 L772.0,1244.0 L775.0,1241.6 L778.0,1239.2 L781.0,1236.8 L784.0,1234.4 L787.0,1231.9 L790.0,1229.5 L793.0,1227.1 L796.0,1224.7 L799.0,1222.2 L802.0,1219.8 L805.0,1217.3 L808.0,1214.9 L811.0,1212.5 L814.0,1210.0 L817.0,1207.6 L820.0,1205.1 L823.0,1202.7 L826.0,1200.2 L829.0,1197.8 L832.0,1195.3 L835.0,1192.8 L838.0,1190.4 L841.0,1187.9 L844.0,1185.4 L847.0,1183.0 L850.0,1180.5 L853.0,1178.0 L856.0,1175.5 L859.0,1173.0 L862.0,1170.6 L865.0,1168.1 L868.0,1165.6 L871.0,1163.1 L874.0,1160.6 L877.0,1158.1 L880.0,1155.6 L883.0,1153.1 L886.0,1150.6 L889.0,1148.1 L892.0,1145.6 L895.0,1143.1 L898.0,1140.5 L901.0,1138.0 L904.0,1135.5 L907.0,1133.0 L910.0,1130.4 L913.0,1127.9 L916.0,1125.4 L919.0,1122.9 L922.0,1120.3 L925.0,1117.8 L928.0,1115.2 L931.0,1112.7 L934.0,1110.1 L937.0,1107.6 L940.0,1105.0 L943.0,1102.5 L946.0,1099.9 L949.0,1097.4 L952.0,1094.8 L955.0,1092.3 L958.0,1089.7 L961.0,1087.1 L964.0,1084.6 L967.0,1082.0 L970.0,1079.4 L973.0,1076.8 L976.0,1074.2 L979.0,1071.7 L982.0,1069.1 L985.0,1066.5 L988.0,1063.9 L991.0,1061.3 L994.0,1058.7 L997.0,1056.1 L1000.0,1053.5 L1003.0,1050.9 L1006.0,1048.3 L1009.0,1045.7 L1012.0,1043.1 L1015.0,1040.5 L1018.0,1037.9 L1021.0,1035.3 L1024.0,1032.6 L1027.0,1030.0 L1030.0,1027.4 L1033.0,1024.8 L1036.0,1022.1 L1039.0,1019.5 L1042.0,1016.9 L1045.0,1014.2 L1048.0,1011.6 L1051.0,1009.0 L1054.0,1006.3 L1057.0,1003.7 L1060.0,1001.0 L1063.0,998.4 L1066.0,995.7 L1069.0,993.1 L1072.0,990.4 L1075.0,987.8 L1078.0,985.1 L1081.0,982.4 L1084.0,979.8 L1087.0,977.1 L1090.0,974.4 L1093.0,971.8 L1096.0,969.1 L1099.0,966.4 L1102.0,963.7 L1105.0,961.0 L1108.0,958.4 L1111.0,955.7 L1114.0,953.0 L1117.0,950.3 L1120.0,947.6 L1123.0,944.9 L1126.0,942.2 L1129.0,939.5 L1132.0,936.8 L1135.0,934.1 L1138.0,931.4 L1141.0,928.7 L1144.0,926.0 L1147.0,923.2 L1150.0,920.5 L1153.0,917.8 L1156.0,915.1 L1159.0,912.4 L1162.0,909.6 L1165.0,906.9 L1168.0,904.2 L1171.0,901.4 L1174.0,898.7 L1177.0,896.0 L1180.0,893.2 L1183.0,890.5 L1186.0,887.7 L1189.0,885.0 L1192.0,882.3 L1195.0,879.5 L1198.0,876.7 L1201.0,874.0 L1204.0,871.2 L1207.0,868.5 L1210.0,865.7 L1213.0,862.9 L1216.0,860.2 L1219.0,857.4 L1222.0,854.6 L1225.0,851.9 L1228.0,849.1 L1231.0,846.3 L1234.0,843.5 L1237.0,840.8 L1240.0,838.0 L1243.0,835.2 L1246.0,832.4 L1249.0,829.6 L1252.0,826.8 L1255.0,824.0 L1258.0,821.2 L1261.0,818.4 L1264.0,815.6 L1267.0,812.8 L1270.0,810.0 L1273.0,807.2 L1276.0,804.4 L1279.0,801.6 L1282.0,798.8 L1285.0,796.0 L1288.0,793.1 L1291.0,790.3 L1294.0,787.5 L1297.0,784.7 L1300.0,781.9 L1303.0,779.0 L1306.0,776.2 L1309.0,773.4 L1312.0,770.5 L1315.0,767.7 L1318.0,764.9 L1321.0,762.0 L1324.0,759.2 L1327.0,756.3 L1330.0,753.5 L1333.0,750.7 L1336.0,747.8 L1339.0,745.0 L1342.0,742.1 L1345.0,739.3 L1348.0,736.4 L1351.0,733.6 L1354.0,730.7 L1357.0,727.9 L1360.0,725.0 L1363.0,722.1 L1366.0,719.3 L1369.0,716.4 L1372.0,713.6 L1375.0,710.7 L1378.0,707.8 L1381.0,704.9 L1384.0,702.1 L1387.0,699.2 L1390.0,696.3 L1393.0,693.5 L1396.0,690.6 L1399.0,687.7 L1402.0,684.8 L1405.0,681.9 L1408.0,679.0 L1411.0,676.2 L1414.0,673.3 L1417.0,670.4 L1420.0,667.5 L1423.0,664.6 L1426.0,661.7 L1429.0,658.8 L1432.0,655.9 L1435.0,653.0 L1438.0,650.1 L1441.0,647.2 L1444.0,644.3 L1447.0,641.4 L1450.0,638.5 L1453.0,635.5 L1456.0,632.6 L1459.0,629.7 L1462.0,626.8 L1465.0,623.9 L1468.0,620.9 L1471.0,618.0 L1474.0,615.1 L1477.0,612.2 L1480.0,609.2 L1483.0,606.3 L1486.0,603.4 L1489.0,600.4 L1492.0,597.5 L1495.0,594.6 L1498.0,591.6 L1501.0,588.7 L1504.0,585.7 L1507.0,582.8 L1510.0,579.8 L1513.0,576.9 L1516.0,573.9 L1519.0,570.9 L1522.0,568.0 L1525.0,565.0 L1528.0,562.1 L1531.0,559.1 L1534.0,556.1 L1537.0,553.2 L1540.0,550.2 L1543.0,547.2 L1546.0,544.2 L1549.0,541.3 L1552.0,538.3 L1555.0,535.3 L1558.0,532.3 L1561.0,529.3 L1564.0,526.3 L1567.0,523.3 L1570.0,520.3 L1573.0,517.3 L1576.0,514.3 L1579.0,511.3 L1582.0,508.3 L1585.0,505.3 L1588.0,502.3 L1591.0,499.3 L1594.0,496.3 L1597.0,493.3 L1600.0,490.3 L1603.0,487.2 L1606.0,484.2 L1609.0,481.2 L1612.0,478.2 L1615.0,475.1 L1618.0,472.1 L1621.0,469.1 L1624.0,466.0 L1627.0,463.0 L1630.0,460.0 L1633.0,456.9 L1636.0,453.9 L1639.0,450.8 L1642.0,447.8 L1645.0,444.7 L1648.0,441.7 L1651.0,438.6 L1654.0,435.6 L1657.0,432.5 L1660.0,429.4 L1663.0,426.4 L1666.0,423.3 L1669.0,420.3 L1672.0,417.2 L1675.0,414.1 L1678.0,411.1 L1681.0,408.0 L1684.0,404.9 L1687.0,401.8 L1690.0,398.8 L1693.0,395.7 L1696.0,392.6 L1699.0,389.5 L1702.0,386.4 L1705.0,383.4 L1708.0,380.3 L1711.0,377.2 L1714.0,374.1 L1717.0,371.0 L1720.0,367.9 L1723.0,364.8 L1726.0,361.7 L1729.0,358.6 L1732.0,355.5 L1735.0,352.4 L1738.0,349.3 L1741.0,346.2 L1744.0,343.1 L1747.0,340.0 L1750.0,336.9 L1753.0,333.8 L1756.0,330.7 L1759.0,327.6 L1762.0,324.4 L1765.0,321.3 L1768.0,318.2 L1771.0,315.1 L1774.0,312.0 L1777.0,308.8 L1780.0,305.7 L1783.0,302.6 L1786.0,299.4 L1789.0,296.3 L1792.0,293.2 L1795.0,290.0 L1798.0,286.9 L1801.0,283.8 L1804.0,280.6 L1807.0,277.5 L1810.0,274.3 L1813.0,271.2 L1816.0,268.0 L1819.0,264.9 L1822.0,261.8 L1825.0,258.6 L1828.0,255.4 L1831.0,252.2 L1834.0,249.0 L1837.0,245.7 L1840.0,242.5 L1843.0,239.3 L1846.0,236.2 L1849.0,233.0 L1852.0,229.9 L1855.0,226.9 L1858.0,223.9 L1861.0,220.9 L1864.0,218.1 L1867.0,215.4 L1870.0,212.7 L1873.0,210.0 L1876.0,207.3 L1879.0,204.7 L1882.0,202.0 L1885.0,199.2 L1888.0,196.3 L1891.0,193.3 L1894.0,190.3 L1897.0,187.2 L1900.0,184.1 L1903.0,181.1 L1906.0,178.1 L1909.0,175.0 L1912.0,171.9 L1915.0,169.0 L1918.0,166.3 L1921.0,164.0 L1924.0,162.0 L1927.0,160.2 L1930.0,158.5 L1933.0,156.8 L1936.0,155.3 L1939.0,153.7 L1942.0,152.1 L1945.0,150.5 L1948.0,149.1 L1951.0,147.6 L1954.0,146.2 L1957.0,144.9 L1960.0,143.7 L1963.0,142.4 L1966.0,141.1 L1969.0,140.0 L1972.0,138.9 L1975.0,137.9 L1978.0,137.2 L1981.0,136.5 L1984.0,136.0 L1987.0,135.8 L1990.0,135.7 L1993.0,135.6 L1996.0,135.6 L1999.0,135.6" fill="none" stroke="#d00000" stroke-width="6.0" stroke-dasharray="41.6 18.5 8 18.46" stroke-dashoffset="0.99"/>
<path d="M232.0,1624.6 L235.0,1623.5 L238.0,1622.4 L241.0,1621.3 L244.0,1620.2 L247.0,1619.1 L250.0,1618.0 L253.0,1616.9 L256.0,1615.8 L259.0,1614.7 L262.0,1613.6 L265.0,1612.5 L268.0,1611.4 L271.0,1610.3 L274.0,1609.1 L277.0,1608.0 L280.0,1606.9 L283.0,1605.7 L286.0,1604.6 L289.0,1603.4 L292.0,1602.3 L295.0,1601.1 L298.0,1599.9 L301.0,1598.8 L304.0,1597.6 L307.0,1596.4 L310.0,1595.2 L313.0,1594.1 L316.0,1592.9 L319.0,1591.7 L322.0,1590.5 L325.0,1589.3 L328.0,1588.1 L331.0,1586.9 L334.0,1585.7 L337.0,1584.5 L340.0,1583.3 L343.0,1582.0 L346.0,1580.8 L349.0,1579.6 L352.0,1578.4 L355.0,1577.1 L358.0,1575.9 L361.0,1574.6 L364.0,1573.4 L367.0,1572.1 L370.0,1570.9 L373.0,1569.6 L376.0,1568.4 L379.0,1567.1 L382.0,1565.8 L385.0,1564.6 L388.0,1563.3 L391.0,1562.0 L394.0,1560.7 L397.0,1559.5 L400.0,1558.2 L403.0,1556.9 L406.0,1555.6 L409.0,1554.3 L412.0,1553.0 L415.0,1551.7 L418.0,1550.4 L421.0,1549.1 L424.0,1547.7 L427.0,1546.4 L430.0,1545.1 L433.0,1543.8 L436.0,1542.4 L439.0,1541.1 L442.0,1539.8 L445.0,1538.4 L448.0,1537.1 L451.0,1535.8 L454.0,1534.4 L457.0,1533.0 L460.0,1531.7 L463.0,1530.3 L466.0,1529.0 L469.0,1527.6 L472.0,1526.2 L475.0,1524.9 L478.0,1523.5 L481.0,1522.1 L484.0,1520.7 L487.0,1519.3 L490.0,1517.9 L493.0,1516.6 L496.0,1515.2 L499.0,1513.8 L502.0,1512.4 L505.0,1511.0 L508.0,1509.5 L511.0,1508.1 L514.0,1506.7 L517.0,1505.3 L520.0,1503.9 L523.0,1502.5 L526.0,1501.0 L529.0,1499.6 L532.0,1498.2 L535.0,1496.7 L538.0,1495.3 L541.0,1493.9 L544.0,1492.4 L547.0,1491.0 L550.0,1489.5 L553.0,1488.1 L556.0,1486.6 L559.0,1485.2 L562.0,1483.7 L565.0,1482.3 L568.0,1480.8 L571.0,1479.3 L574.0,1477.9 L577.0,1476.4 L580.0,1474.9 L583.0,1473.5 L586.0,1472.0 L589.0,1470.5 L592.0,1469.0 L595.0,1467.5 L598.0,1466.0 L601.0,1464.5 L604.0,1463.0 L607.0,1461.5 L610.0,1460.0 L613.0,1458.5 L616.0,1457.0 L619.0,1455.5 L622.0,1454.0 L625.0,1452.5 L628.0,1450.9 L631.0,1449.4 L634.0,1447.9 L637.0,1446.3 L640.0,1444.8 L643.0,1443.3 L646.0,1441.7 L649.0,1440.2 L652.0,1438.6 L655.0,1437.1 L658.0,1435.5 L661.0,1433.9 L664.0,1432.4 L667.0,1430.8 L670.0,1429.2 L673.0,1427.7 L676.0,1426.1 L679.0,1424.5 L682.0,1422.9 L685.0,1421.3 L688.0,1419.7 L691.0,1418.1 L694.0,1416.5 L697.0,1414.9 L700.0,1413.3 L703.0,1411.6 L706.0,1410.0 L709.0,1408.4 L712.0,1406.8 L715.0,1405.1 L718.0,1403.5 L721.0,1401.9 L724.0,1400.2 L727.0,1398.6 L730.0,1396.9 L733.0,1395.3 L736.0,1393.6 L739.0,1391.9 L742.0,1390.3 L745.0,1388.6 L748.0,1386.9 L751.0,1385.2 L754.0,1383.6 L757.0,1381.9 L760.0,1380.2 L763.0,1378.5 L766.0,1376.8 L769.0,1375.1 L772.0,1373.4 L775.0,1371.7 L778.0,1370.0 L781.0,1368.3 L784.0,1366.6 L787.0,1364.9 L790.0,1363.1 L793.0,1361.4 L796.0,1359.7 L799.0,1358.0 L802.0,1356.2 L805.0,1354.5 L808.0,1352.7 L811.0,1351.0 L814.0,1349.3 L817.0,1347.5 L820.0,1345.7 L823.0,1344.0 L826.0,1342.2 L829.0,1340.5 L832.0,1338.7 L835.0,1336.9 L838.0,1335.2 L841.0,1333.4 L844.0,1331.6 L847.0,1329.8 L850.0,1328.0 L853.0,1326.2 L856.0,1324.5 L859.0,1322.7 L862.0,1320.9 L865.0,1319.1 L868.0,1317.3 L871.0,1315.4 L874.0,1313.6 L877.0,1311.8 L880.0,1310.0 L883.0,1308.2 L886.0,1306.4 L889.0,1304.5 L892.0,1302.7 L895.0,1300.9 L898.0,1299.0 L901.0,1297.2 L904.0,1295.4 L907.0,1293.5 L910.0,1291.7 L913.0,1289.8 L916.0,1288.0 L919.0,1286.1 L922.0,1284.2 L925.0,1282.4 L928.0,1280.5 L931.0,1278.6 L934.0,1276.8 L937.0,1274.9 L940.0,1273.0 L943.0,1271.1 L946.0,1269.2 L949.0,1267.3 L952.0,1265.4 L955.0,1263.5 L958.0,1261.6 L961.0,1259.7 L964.0,1257.8 L967.0,1255.9 L970.0,1254.0 L973.0,1252.1 L976.0,1250.2 L979.0,1248.2 L982.0,1246.3 L985.0,1244.4 L988.0,1242.4 L991.0,1240.5 L994.0,1238.6 L997.0,1236.6 L1000.0,1234.7 L1003.0,1232.7 L1006.0,1230.8 L1009.0,1228.8 L1012.0,1226.8 L1015.0,1224.9 L1018.0,1222.9 L1021.0,1220.9 L1024.0,1219.0 L1027.0,1217.0 L1030.0,1215.0 L1033.0,1213.0 L1036.0,1211.0 L1039.0,1209.0 L1042.0,1207.0 L1045.0,1205.0 L1048.0,1203.0 L1051.0,1201.0 L1054.0,1199.0 L1057.0,1197.0 L1060.0,1195.0 L1063.0,1192.9 L1066.0,1190.9 L1069.0,1188.9 L1072.0,1186.9 L1075.0,1184.8 L1078.0,1182.8 L1081.0,1180.7 L1084.0,1178.7 L1087.0,1176.6 L1090.0,1174.6 L1093.0,1172.5 L1096.0,1170.5 L1099.0,1168.4 L1102.0,1166.3 L1105.0,1164.3 L1108.0,1162.2 L1111.0,1160.1 L1114.0,1158.0 L1117.0,1156.0 L1120.0,1153.9 L1123.0,1151.8 L1126.0,1149.7 L1129.0,1147.6 L1132.0,1145.5 L1135.0,1143.4 L1138.0,1141.3 L1141.0,1139.2 L1144.0,1137.1 L1147.0,1135.0 L1150.0,1132.9 L1153.0,1130.8 L1156.0,1128.6 L1159.0,1126.5 L1162.0,1124.4 L1165.0,1122.3 L1168.0,1120.1 L1171.0,1118.0 L1174.0,1115.8 L1177.0,1113.7 L1180.0,1111.5 L1183.0,1109.4 L1186.0,1107.2 L1189.0,1105.1 L1192.0,1102.9 L1195.0,1100.7 L1198.0,1098.6 L1201.0,1096.4 L1204.0,1094.2 L1207.0,1092.0 L1210.0,1089.8 L1213.0,1087.6 L1216.0,1085.4 L1219.0,1083.2 L1222.0,1081.0 L1225.0,1078.8 L1228.0,1076.6 L1231.0,1074.4 L1234.0,1072.1 L1237.0,1069.9 L1240.0,1067.7 L1243.0,1065.4 L1246.0,1063.2 L1249.0,1060.9 L1252.0,1058.7 L1255.0,1056.4 L1258.0,1054.2 L1261.0,1051.9 L1264.0,1049.6 L1267.0,1047.3 L1270.0,1045.1 L1273.0,1042.8 L1276.0,1040.5 L1279.0,1038.2 L1282.0,1035.9 L1285.0,1033.5 L1288.0,1031.2 L1291.0,1028.9 L1294.0,1026.6 L1297.0,1024.2 L1300.0,1021.9 L1303.0,1019.6 L1306.0,1017.2 L1309.0,1014.9 L1312.0,1012.5 L1315.0,1010.1 L1318.0,1007.8 L1321.0,1005.4 L1324.0,1003.0 L1327.0,1000.6 L1330.0,998.2 L1333.0,995.8 L1336.0,993.4 L1339.0,991.0 L1342.0,988.6 L1345.0,986.2 L1348.0,983.8 L1351.0,981.4 L1354.0,979.0 L1357.0,976.5 L1360.0,974.1 L1363.0,971.7 L1366.0,969.2 L1369.0,966.8 L1372.0,964.3 L1375.0,961.9 L1378.0,959.4 L1381.0,957.0 L1384.0,954.5 L1387.0,952.1 L1390.0,949.6 L1393.0,947.1 L1396.0,944.6 L1399.0,942.2 L1402.0,939.7 L1405.0,937.2 L1408.0,934.7 L1411.0,932.2 L1414.0,929.7 L1417.0,927.2 L1420.0,924.7 L1423.0,922.2 L1426.0,919.7 L1429.0,917.2 L1432.0,914.7 L1435.0,912.1 L1438.0,909.6 L1441.0,907.1 L1444.0,904.6 L1447.0,902.0 L1450.0,899.5 L1453.0,896.9 L1456.0,894.4 L1459.0,891.8 L1462.0,889.3 L1465.0,886.7 L1468.0,884.2 L1471.0,881.6 L1474.0,879.0 L1477.0,876.4 L1480.0,873.9 L1483.0,871.3 L1486.0,868.7 L1489.0,866.1 L1492.0,863.5 L1495.0,860.9 L1498.0,858.3 L1501.0,855.7 L1504.0,853.1 L1507.0,850.5 L1510.0,847.9 L1513.0,845.3 L1516.0,842.7 L1519.0,840.0 L1522.0,837.4 L1525.0,834.8 L1528.0,832.1 L1531.0,829.5 L1534.0,826.9 L1537.0,824.2 L1540.0,821.6 L1543.0,818.9 L1546.0,816.3 L1549.0,813.6 L1552.0,810.9 L1555.0,808.3 L1558.0,805.6 L1561.0,802.9 L1564.0,800.2 L1567.0,797.6 L1570.0,794.9 L1573.0,792.2 L1576.0,789.5 L1579.0,786.8 L1582.0,784.1 L1585.0,781.4 L1588.0,778.7 L1591.0,776.0 L1594.0,773.3 L1597.0,770.6 L1600.0,767.9 L1603.0,765.2 L1606.0,762.5 L1609.0,759.7 L1612.0,757.0 L1615.0,754.3 L1618.0,751.6 L1621.0,748.8 L1624.0,746.1 L1627.0,743.4 L1630.0,740.6 L1633.0,737.9 L1636.0,735.1 L1639.0,732.4 L1642.0,729.6 L1645.0,726.9 L1648.0,724.1 L1651.0,721.4 L1654.0,718.6 L1657.0,715.8 L1660.0,713.1 L1663.0,710.3 L1666.0,707.5 L1669.0,704.7 L1672.0,702.0 L1675.0,699.2 L1678.0,696.4 L1681.0,693.6 L1684.0,690.8 L1687.0,688.0 L1690.0,685.2 L1693.0,682.4 L1696.0,679.6 L1699.0,676.9 L1702.0,674.1 L1705.0,671.3 L1708.0,668.5 L1711.0,665.7 L1714.0,662.9 L1717.0,660.1 L1720.0,657.3 L1723.0,654.5 L1726.0,651.7 L1729.0,648.9 L1732.0,646.1 L1735.0,643.3 L1738.0,640.5 L1741.0,637.7 L1744.0,634.9 L1747.0,632.1 L1750.0,629.3 L1753.0,626.5 L1756.0,623.7 L1759.0,620.9 L1762.0,618.0 L1765.0,615.2 L1768.0,612.3 L1771.0,609.5 L1774.0,606.6 L1777.0,603.8 L1780.0,600.9 L1783.0,598.0 L1786.0,595.1 L1789.0,592.2 L1792.0,589.4 L1795.0,586.5 L1798.0,583.6 L1801.0,580.7 L1804.0,577.8 L1807.0,574.9 L1810.0,572.0 L1813.0,569.1 L1816.0,566.2 L1819.0,563.2 L1822.0,560.3 L1825.0,557.3 L1828.0,554.4 L1831.0,551.4 L1834.0,548.4 L1837.0,545.4 L1840.0,542.4 L1843.0,539.4 L1846.0,536.4 L1849.0,533.4 L1852.0,530.4 L1855.0,527.4 L1858.0,524.5 L1861.0,521.6 L1864.0,518.8 L1867.0,515.9 L1870.0,513.1 L1873.0,510.2 L1876.0,507.4 L1879.0,504.7 L1882.0,501.9 L1885.0,499.2 L1888.0,496.5 L1891.0,493.8 L1894.0,491.1 L1897.0,488.4 L1900.0,485.8 L1903.0,483.2 L1906.0,480.8 L1909.0,478.5 L1912.0,476.3 L1915.0,474.2 L1918.0,472.2 L1921.0,470.3 L1924.0,468.5 L1927.0,466.8 L1930.0,465.1 L1933.0,463.6 L1936.0,462.1 L1939.0,460.7 L1942.0,459.3 L1945.0,457.9 L1948.0,456.6 L1951.0,455.4 L1954.0,454.2 L1957.0,453.1 L1960.0,452.1 L1963.0,451.1 L1966.0,450.2 L1969.0,449.3 L1972.0,448.8 L1975.0,448.5 L1978.0,448.4 L1981.0,448.4 L1984.0,448.4 L1987.0,448.4 L1990.0,448.4 L1993.0,448.4 L1996.0,448.4 L1999.0,448.4" fill="none" stroke="#3030ff" stroke-width="5.0"/>
<path d="M232.0,1631.1 L235.0,1630.0 L238.0,1628.9 L241.0,1627.8 L244.0,1626.7 L247.0,1625.5 L250.0,1624.4 L253.0,1623.3 L256.0,1622.2 L259.0,1621.0 L262.0,1619.9 L265.0,1618.8 L268.0,1617.6 L271.0,1616.5 L274.0,1615.3 L277.0,1614.1 L280.0,1613.0 L283.0,1611.8 L286.0,1610.6 L289.0,1609.5 L292.0,1608.3 L295.0,1607.1 L298.0,1605.9 L301.0,1604.7 L304.0,1603.5 L307.0,1602.3 L310.0,1601.1 L313.0,1599.9 L316.0,1598.7 L319.0,1597.4 L322.0,1596.2 L325.0,1595.0 L328.0,1593.8 L331.0,1592.5 L334.0,1591.3 L337.0,1590.0 L340.0,1588.8 L343.0,1587.6 L346.0,1586.3 L349.0,1585.0 L352.0,1583.8 L355.0,1582.5 L358.0,1581.2 L361.0,1580.0 L364.0,1578.7 L367.0,1577.4 L370.0,1576.1 L373.0,1574.8 L376.0,1573.5 L379.0,1572.2 L382.0,1570.9 L385.0,1569.6 L388.0,1568.3 L391.0,1567.0 L394.0,1565.7 L397.0,1564.4 L400.0,1563.0 L403.0,1561.7 L406.0,1560.4 L409.0,1559.0 L412.0,1557.7 L415.0,1556.4 L418.0,1555.0 L421.0,1553.7 L424.0,1552.3 L427.0,1551.0 L430.0,1549.6 L433.0,1548.2 L436.0,1546.9 L439.0,1545.5 L442.0,1544.1 L445.0,1542.7 L448.0,1541.4 L451.0,1540.0 L454.0,1538.6 L457.0,1537.2 L460.0,1535.8 L463.0,1534.4 L466.0,1533.0 L469.0,1531.6 L472.0,1530.2 L475.0,1528.8 L478.0,1527.3 L481.0,1525.9 L484.0,1524.5 L487.0,1523.1 L490.0,1521.6 L493.0,1520.2 L496.0,1518.7 L499.0,1517.3 L502.0,1515.8 L505.0,1514.4 L508.0,1512.9 L511.0,1511.5 L514.0,1510.0 L517.0,1508.6 L520.0,1507.1 L523.0,1505.6 L526.0,1504.1 L529.0,1502.7 L532.0,1501.2 L535.0,1499.7 L538.0,1498.2 L541.0,1496.7 L544.0,1495.2 L547.0,1493.7 L550.0,1492.2 L553.0,1490.7 L556.0,1489.2 L559.0,1487.7 L562.0,1486.2 L565.0,1484.6 L568.0,1483.1 L571.0,1481.6 L574.0,1480.1 L577.0,1478.5 L580.0,1477.0 L583.0,1475.5 L586.0,1473.9 L589.0,1472.4 L592.0,1470.8 L595.0,1469.3 L598.0,1467.7 L601.0,1466.2 L604.0,1464.6 L607.0,1463.1 L610.0,1461.5 L613.0,1459.9 L616.0,1458.4 L619.0,1456.8 L622.0,1455.2 L625.0,1453.6 L628.0,1452.0 L631.0,1450.5 L634.0,1448.9 L637.0,1447.3 L640.0,1445.7 L643.0,1444.1 L646.0,1442.5 L649.0,1440.9 L652.0,1439.3 L655.0,1437.7 L658.0,1436.1 L661.0,1434.5 L664.0,1432.8 L667.0,1431.2 L670.0,1429.6 L673.0,1428.0 L676.0,1426.4 L679.0,1424.7 L682.0,1423.1 L685.0,1421.5 L688.0,1419.8 L691.0,1418.2 L694.0,1416.6 L697.0,1414.9 L700.0,1413.3 L703.0,1411.6 L706.0,1410.0 L709.0,1408.3 L712.0,1406.7 L715.0,1405.0 L718.0,1403.3 L721.0,1401.7 L724.0,1400.0 L727.0,1398.3 L730.0,1396.6 L733.0,1395.0 L736.0,1393.3 L739.0,1391.6 L742.0,1389.9 L745.0,1388.2 L748.0,1386.5 L751.0,1384.8 L754.0,1383.1 L757.0,1381.4 L760.0,1379.7 L763.0,1378.0 L766.0,1376.3 L769.0,1374.5 L772.0,1372.8 L775.0,1371.1 L778.0,1369.4 L781.0,1367.6 L784.0,1365.9 L787.0,1364.2 L790.0,1362.4 L793.0,1360.7 L796.0,1358.9 L799.0,1357.2 L802.0,1355.4 L805.0,1353.7 L808.0,1351.9 L811.0,1350.1 L814.0,1348.4 L817.0,1346.6 L820.0,1344.8 L823.0,1343.1 L826.0,1341.3 L829.0,1339.5 L832.0,1337.7 L835.0,1335.9 L838.0,1334.1 L841.0,1332.3 L844.0,1330.5 L847.0,1328.7 L850.0,1326.9 L853.0,1325.1 L856.0,1323.3 L859.0,1321.5 L862.0,1319.7 L865.0,1317.8 L868.0,1316.0 L871.0,1314.2 L874.0,1312.3 L877.0,1310.5 L880.0,1308.7 L883.0,1306.8 L886.0,1305.0 L889.0,1303.1 L892.0,1301.3 L895.0,1299.4 L898.0,1297.6 L901.0,1295.7 L904.0,1293.8 L907.0,1292.0 L910.0,1290.1 L913.0,1288.2 L916.0,1286.3 L919.0,1284.4 L922.0,1282.6 L925.0,1280.7 L928.0,1278.8 L931.0,1276.9 L934.0,1275.0 L937.0,1273.1 L940.0,1271.2 L943.0,1269.2 L946.0,1267.3 L949.0,1265.4 L952.0,1263.5 L955.0,1261.6 L958.0,1259.6 L961.0,1257.7 L964.0,1255.8 L967.0,1253.8 L970.0,1251.9 L973.0,1249.9 L976.0,1248.0 L979.0,1246.0 L982.0,1244.1 L985.0,1242.1 L988.0,1240.1 L991.0,1238.2 L994.0,1236.2 L997.0,1234.2 L1000.0,1232.3 L1003.0,1230.3 L1006.0,1228.3 L1009.0,1226.3 L1012.0,1224.3 L1015.0,1222.3 L1018.0,1220.3 L1021.0,1218.3 L1024.0,1216.3 L1027.0,1214.3 L1030.0,1212.3 L1033.0,1210.3 L1036.0,1208.2 L1039.0,1206.2 L1042.0,1204.2 L1045.0,1202.1 L1048.0,1200.1 L1051.0,1198.1 L1054.0,1196.0 L1057.0,1194.0 L1060.0,1191.9 L1063.0,1189.9 L1066.0,1187.8 L1069.0,1185.7 L1072.0,1183.7 L1075.0,1181.6 L1078.0,1179.5 L1081.0,1177.5 L1084.0,1175.4 L1087.0,1173.3 L1090.0,1171.2 L1093.0,1169.1 L1096.0,1167.0 L1099.0,1164.9 L1102.0,1162.8 L1105.0,1160.7 L1108.0,1158.6 L1111.0,1156.5 L1114.0,1154.4 L1117.0,1152.2 L1120.0,1150.1 L1123.0,1148.0 L1126.0,1145.8 L1129.0,1143.7 L1132.0,1141.6 L1135.0,1139.4 L1138.0,1137.3 L1141.0,1135.1 L1144.0,1133.0 L1147.0,1130.8 L1150.0,1128.6 L1153.0,1126.5 L1156.0,1124.3 L1159.0,1122.1 L1162.0,1119.9 L1165.0,1117.8 L1168.0,1115.6 L1171.0,1113.4 L1174.0,1111.2 L1177.0,1109.0 L1180.0,1106.8 L1183.0,1104.6 L1186.0,1102.4 L1189.0,1100.1 L1192.0,1097.9 L1195.0,1095.7 L1198.0,1093.5 L1201.0,1091.2 L1204.0,1089.0 L1207.0,1086.8 L1210.0,1084.5 L1213.0,1082.3 L1216.0,1080.0 L1219.0,1077.8 L1222.0,1075.5 L1225.0,1073.3 L1228.0,1071.0 L1231.0,1068.7 L1234.0,1066.4 L1237.0,1064.2 L1240.0,1061.9 L1243.0,1059.6 L1246.0,1057.3 L1249.0,1055.0 L1252.0,1052.7 L1255.0,1050.4 L1258.0,1048.1 L1261.0,1045.8 L1264.0,1043.5 L1267.0,1041.2 L1270.0,1038.8 L1273.0,1036.5 L1276.0,1034.2 L1279.0,1031.9 L1282.0,1029.5 L1285.0,1027.2 L1288.0,1024.8 L1291.0,1022.5 L1294.0,1020.1 L1297.0,1017.8 L1300.0,1015.4 L1303.0,1013.0 L1306.0,1010.7 L1309.0,1008.3 L1312.0,1005.9 L1315.0,1003.5 L1318.0,1001.1 L1321.0,998.8 L1324.0,996.4 L1327.0,994.0 L1330.0,991.6 L1333.0,989.2 L1336.0,986.7 L1339.0,984.3 L1342.0,981.9 L1345.0,979.5 L1348.0,977.1 L1351.0,974.6 L1354.0,972.2 L1357.0,969.7 L1360.0,967.3 L1363.0,964.9 L1366.0,962.4 L1369.0,960.0 L1372.0,957.5 L1375.0,955.0 L1378.0,952.6 L1381.0,950.1 L1384.0,947.6 L1387.0,945.1 L1390.0,942.6 L1393.0,940.2 L1396.0,937.7 L1399.0,935.2 L1402.0,932.7 L1405.0,930.2 L1408.0,927.7 L1411.0,925.1 L1414.0,922.6 L1417.0,920.1 L1420.0,917.6 L1423.0,915.1 L1426.0,912.5 L1429.0,910.0 L1432.0,907.5 L1435.0,904.9 L1438.0,902.4 L1441.0,899.8 L1444.0,897.2 L1447.0,894.7 L1450.0,892.1 L1453.0,889.6 L1456.0,887.0 L1459.0,884.4 L1462.0,881.8 L1465.0,879.2 L1468.0,876.7 L1471.0,874.1 L1474.0,871.5 L1477.0,868.9 L1480.0,866.3 L1483.0,863.6 L1486.0,861.0 L1489.0,858.4 L1492.0,855.8 L1495.0,853.2 L1498.0,850.5 L1501.0,847.9 L1504.0,845.3 L1507.0,842.6 L1510.0,840.0 L1513.0,837.3 L1516.0,834.7 L1519.0,832.0 L1522.0,829.4 L1525.0,826.7 L1528.0,824.1 L1531.0,821.4 L1534.0,818.7 L1537.0,816.0 L1540.0,813.3 L1543.0,810.7 L1546.0,808.0 L1549.0,805.3 L1552.0,802.6 L1555.0,799.9 L1558.0,797.2 L1561.0,794.5 L1564.0,791.7 L1567.0,789.0 L1570.0,786.3 L1573.0,783.6 L1576.0,780.9 L1579.0,778.1 L1582.0,775.4 L1585.0,772.6 L1588.0,769.9 L1591.0,767.2 L1594.0,764.4 L1597.0,761.6 L1600.0,758.9 L1603.0,756.1 L1606.0,753.4 L1609.0,750.6 L1612.0,747.8 L1615.0,745.0 L1618.0,742.3 L1621.0,739.5 L1624.0,736.7 L1627.0,733.9 L1630.0,731.1 L1633.0,728.3 L1636.0,725.5 L1639.0,722.7 L1642.0,719.9 L1645.0,717.1 L1648.0,714.3 L1651.0,711.4 L1654.0,708.6 L1657.0,705.8 L1660.0,703.0 L1663.0,700.1 L1666.0,697.3 L1669.0,694.5 L1672.0,691.6 L1675.0,688.8 L1678.0,685.9 L1681.0,683.1 L1684.0,680.2 L1687.0,677.4 L1690.0,674.5 L1693.0,671.6 L1696.0,668.8 L1699.0,665.9 L1702.0,663.0 L1705.0,660.1 L1708.0,657.2 L1711.0,654.4 L1714.0,651.5 L1717.0,648.6 L1720.0,645.7 L1723.0,642.8 L1726.0,639.9 L1729.0,637.0 L1732.0,634.1 L1735.0,631.2 L1738.0,628.3 L1741.0,625.3 L1744.0,622.4 L1747.0,619.5 L1750.0,616.6 L1753.0,613.6 L1756.0,610.7 L1759.0,607.8 L1762.0,604.8 L1765.0,601.9 L1768.0,599.0 L1771.0,596.0 L1774.0,593.1 L1777.0,590.1 L1780.0,587.2 L1783.0,584.2 L1786.0,581.2 L1789.0,578.3 L1792.0,575.3 L1795.0,572.4 L1798.0,569.4 L1801.0,566.4 L1804.0,563.4 L1807.0,560.4 L1810.0,557.4 L1813.0,554.5 L1816.0,551.5 L1819.0,548.5 L1822.0,545.5 L1825.0,542.6 L1828.0,539.6 L1831.0,536.6 L1834.0,533.7 L1837.0,530.7 L1840.0,527.7 L1843.0,524.8 L1846.0,521.8 L1849.0,518.8 L1852.0,515.9 L1855.0,512.9 L1858.0,510.0 L1861.0,507.0 L1864.0,504.1 L1867.0,501.2 L1870.0,498.2 L1873.0,495.3 L1876.0,492.4 L1879.0,489.6 L1882.0,486.7 L1885.0,483.9 L1888.0,481.0 L1891.0,478.3 L1894.0,475.5 L1897.0,472.7 L1900.0,470.0 L1903.0,467.3 L1906.0,464.6 L1909.0,461.8 L1912.0,459.0 L1915.0,456.4 L1918.0,454.0 L1921.0,451.7 L1924.0,449.4 L1927.0,447.3 L1930.0,445.3 L1933.0,443.3 L1936.0,441.5 L1939.0,439.8 L1942.0,438.1 L1945.0,436.5 L1948.0,434.9 L1951.0,433.5 L1954.0,432.0 L1957.0,430.6 L1960.0,429.3 L1963.0,427.9 L1966.0,426.7 L1969.0,425.4 L1972.0,423.9 L1975.0,422.6 L1978.0,421.5 L1981.0,420.9 L1984.0,420.6 L1987.0,420.5 L1990.0,420.5 L1993.0,420.5 L1996.0,420.5 L1999.0,420.5" fill="none" stroke="#00d000" stroke-width="5.0"/>
<path d="M232.0,1629.6 L235.0,1628.5 L238.0,1627.4 L241.0,1626.3 L244.0,1625.2 L247.0,1624.1 L250.0,1622.9 L253.0,1621.8 L256.0,1620.7 L259.0,1619.6 L262.0,1618.4 L265.0,1617.3 L268.0,1616.2 L271.0,1615.0 L274.0,1613.9 L277.0,1612.7 L280.0,1611.6 L283.0,1610.4 L286.0,1609.2 L289.0,1608.1 L292.0,1606.9 L295.0,1605.7 L298.0,1604.5 L301.0,1603.3 L304.0,1602.1 L307.0,1600.9 L310.0,1599.7 L313.0,1598.5 L316.0,1597.3 L319.0,1596.1 L322.0,1594.9 L325.0,1593.7 L328.0,1592.5 L331.0,1591.2 L334.0,1590.0 L337.0,1588.8 L340.0,1587.5 L343.0,1586.3 L346.0,1585.0 L349.0,1583.8 L352.0,1582.5 L355.0,1581.3 L358.0,1580.0 L361.0,1578.7 L364.0,1577.4 L367.0,1576.2 L370.0,1574.9 L373.0,1573.6 L376.0,1572.3 L379.0,1571.0 L382.0,1569.7 L385.0,1568.4 L388.0,1567.1 L391.0,1565.8 L394.0,1564.5 L397.0,1563.2 L400.0,1561.9 L403.0,1560.6 L406.0,1559.3 L409.0,1557.9 L412.0,1556.6 L415.0,1555.3 L418.0,1553.9 L421.0,1552.6 L424.0,1551.2 L427.0,1549.9 L430.0,1548.5 L433.0,1547.2 L436.0,1545.8 L439.0,1544.5 L442.0,1543.1 L445.0,1541.7 L448.0,1540.4 L451.0,1539.0 L454.0,1537.6 L457.0,1536.2 L460.0,1534.8 L463.0,1533.4 L466.0,1532.0 L469.0,1530.6 L472.0,1529.2 L475.0,1527.8 L478.0,1526.4 L481.0,1525.0 L484.0,1523.6 L487.0,1522.2 L490.0,1520.8 L493.0,1519.3 L496.0,1517.9 L499.0,1516.5 L502.0,1515.1 L505.0,1513.6 L508.0,1512.2 L511.0,1510.7 L514.0,1509.3 L517.0,1507.8 L520.0,1506.4 L523.0,1504.9 L526.0,1503.5 L529.0,1502.0 L532.0,1500.5 L535.0,1499.1 L538.0,1497.6 L541.0,1496.1 L544.0,1494.6 L547.0,1493.1 L550.0,1491.7 L553.0,1490.2 L556.0,1488.7 L559.0,1487.2 L562.0,1485.7 L565.0,1484.2 L568.0,1482.7 L571.0,1481.2 L574.0,1479.7 L577.0,1478.1 L580.0,1476.6 L583.0,1475.1 L586.0,1473.6 L589.0,1472.0 L592.0,1470.5 L595.0,1469.0 L598.0,1467.4 L601.0,1465.9 L604.0,1464.4 L607.0,1462.8 L610.0,1461.3 L613.0,1459.7 L616.0,1458.1 L619.0,1456.6 L622.0,1455.0 L625.0,1453.5 L628.0,1451.9 L631.0,1450.3 L634.0,1448.7 L637.0,1447.2 L640.0,1445.6 L643.0,1444.0 L646.0,1442.4 L649.0,1440.8 L652.0,1439.2 L655.0,1437.6 L658.0,1436.0 L661.0,1434.4 L664.0,1432.8 L667.0,1431.2 L670.0,1429.6 L673.0,1428.0 L676.0,1426.3 L679.0,1424.7 L682.0,1423.1 L685.0,1421.5 L688.0,1419.8 L691.0,1418.2 L694.0,1416.6 L697.0,1414.9 L700.0,1413.3 L703.0,1411.6 L706.0,1410.0 L709.0,1408.3 L712.0,1406.7 L715.0,1405.0 L718.0,1403.3 L721.0,1401.7 L724.0,1400.0 L727.0,1398.3 L730.0,1396.6 L733.0,1395.0 L736.0,1393.3 L739.0,1391.6 L742.0,1389.9 L745.0,1388.2 L748.0,1386.5 L751.0,1384.8 L754.0,1383.1 L757.0,1381.4 L760.0,1379.7 L763.0,1378.0 L766.0,1376.3 L769.0,1374.5 L772.0,1372.8 L775.0,1371.1 L778.0,1369.4 L781.0,1367.6 L784.0,1365.9 L787.0,1364.2 L790.0,1362.4 L793.0,1360.7 L796.0,1358.9 L799.0,1357.2 L802.0,1355.4 L805.0,1353.7 L808.0,1351.9 L811.0,1350.2 L814.0,1348.4 L817.0,1346.6 L820.0,1344.8 L823.0,1343.1 L826.0,1341.3 L829.0,1339.5 L832.0,1337.7 L835.0,1335.9 L838.0,1334.1 L841.0,1332.3 L844.0,1330.5 L847.0,1328.7 L850.0,1326.9 L853.0,1325.1 L856.0,1323.3 L859.0,1321.5 L862.0,1319.7 L865.0,1317.9 L868.0,1316.0 L871.0,1314.2 L874.0,1312.4 L877.0,1310.5 L880.0,1308.7 L883.0,1306.8 L886.0,1305.0 L889.0,1303.1 L892.0,1301.3 L895.0,1299.4 L898.0,1297.6 L901.0,1295.7 L904.0,1293.9 L907.0,1292.0 L910.0,1290.1 L913.0,1288.2 L916.0,1286.4 L919.0,1284.5 L922.0,1282.6 L925.0,1280.7 L928.0,1278.8 L931.0,1276.9 L934.0,1275.0 L937.0,1273.1 L940.0,1271.2 L943.0,1269.3 L946.0,1267.4 L949.0,1265.4 L952.0,1263.5 L955.0,1261.6 L958.0,1259.7 L961.0,1257.7 L964.0,1255.8 L967.0,1253.9 L970.0,1251.9 L973.0,1250.0 L976.0,1248.0 L979.0,1246.1 L982.0,1244.1 L985.0,1242.2 L988.0,1240.2 L991.0,1238.2 L994.0,1236.3 L997.0,1234.3 L1000.0,1232.3 L1003.0,1230.3 L1006.0,1228.3 L1009.0,1226.4 L1012.0,1224.4 L1015.0,1222.4 L1018.0,1220.4 L1021.0,1218.4 L1024.0,1216.4 L1027.0,1214.4 L1030.0,1212.3 L1033.0,1210.3 L1036.0,1208.3 L1039.0,1206.3 L1042.0,1204.2 L1045.0,1202.2 L1048.0,1200.2 L1051.0,1198.1 L1054.0,1196.1 L1057.0,1194.1 L1060.0,1192.0 L1063.0,1189.9 L1066.0,1187.9 L1069.0,1185.8 L1072.0,1183.8 L1075.0,1181.7 L1078.0,1179.6 L1081.0,1177.5 L1084.0,1175.5 L1087.0,1173.4 L1090.0,1171.3 L1093.0,1169.2 L1096.0,1167.1 L1099.0,1165.0 L1102.0,1162.9 L1105.0,1160.8 L1108.0,1158.7 L1111.0,1156.6 L1114.0,1154.5 L1117.0,1152.3 L1120.0,1150.2 L1123.0,1148.1 L1126.0,1146.0 L1129.0,1143.8 L1132.0,1141.7 L1135.0,1139.5 L1138.0,1137.4 L1141.0,1135.2 L1144.0,1133.1 L1147.0,1130.9 L1150.0,1128.8 L1153.0,1126.6 L1156.0,1124.4 L1159.0,1122.2 L1162.0,1120.1 L1165.0,1117.9 L1168.0,1115.7 L1171.0,1113.5 L1174.0,1111.3 L1177.0,1109.1 L1180.0,1106.9 L1183.0,1104.7 L1186.0,1102.5 L1189.0,1100.3 L1192.0,1098.1 L1195.0,1095.9 L1198.0,1093.6 L1201.0,1091.4 L1204.0,1089.2 L1207.0,1086.9 L1210.0,1084.7 L1213.0,1082.4 L1216.0,1080.2 L1219.0,1077.9 L1222.0,1075.7 L1225.0,1073.4 L1228.0,1071.2 L1231.0,1068.9 L1234.0,1066.6 L1237.0,1064.3 L1240.0,1062.1 L1243.0,1059.8 L1246.0,1057.5 L1249.0,1055.2 L1252.0,1052.9 L1255.0,1050.6 L1258.0,1048.3 L1261.0,1046.0 L1264.0,1043.7 L1267.0,1041.4 L1270.0,1039.0 L1273.0,1036.7 L1276.0,1034.4 L1279.0,1032.0 L1282.0,1029.7 L1285.0,1027.4 L1288.0,1025.0 L1291.0,1022.7 L1294.0,1020.3 L1297.0,1018.0 L1300.0,1015.6 L1303.0,1013.2 L1306.0,1010.9 L1309.0,1008.5 L1312.0,1006.1 L1315.0,1003.7 L1318.0,1001.4 L1321.0,999.0 L1324.0,996.6 L1327.0,994.2 L1330.0,991.8 L1333.0,989.4 L1336.0,987.0 L1339.0,984.6 L1342.0,982.1 L1345.0,979.7 L1348.0,977.3 L1351.0,974.9 L1354.0,972.4 L1357.0,970.0 L1360.0,967.6 L1363.0,965.1 L1366.0,962.7 L1369.0,960.2 L1372.0,957.7 L1375.0,955.3 L1378.0,952.8 L1381.0,950.3 L1384.0,947.9 L1387.0,945.4 L1390.0,942.9 L1393.0,940.4 L1396.0,937.9 L1399.0,935.4 L1402.0,932.9 L1405.0,930.4 L1408.0,927.9 L1411.0,925.4 L1414.0,922.9 L1417.0,920.4 L1420.0,917.9 L1423.0,915.3 L1426.0,912.8 L1429.0,910.3 L1432.0,907.7 L1435.0,905.2 L1438.0,902.7 L1441.0,900.1 L1444.0,897.6 L1447.0,895.0 L1450.0,892.4 L1453.0,889.9 L1456.0,887.3 L1459.0,884.7 L1462.0,882.1 L1465.0,879.6 L1468.0,877.0 L1471.0,874.4 L1474.0,871.8 L1477.0,869.2 L1480.0,866.6 L1483.0,864.0 L1486.0,861.4 L1489.0,858.8 L1492.0,856.1 L1495.0,853.5 L1498.0,850.9 L1501.0,848.3 L1504.0,845.6 L1507.0,843.0 L1510.0,840.3 L1513.0,837.7 L1516.0,835.1 L1519.0,832.4 L1522.0,829.7 L1525.0,827.1 L1528.0,824.4 L1531.0,821.7 L1534.0,819.1 L1537.0,816.4 L1540.0,813.7 L1543.0,811.0 L1546.0,808.3 L1549.0,805.7 L1552.0,803.0 L1555.0,800.3 L1558.0,797.6 L1561.0,794.8 L1564.0,792.1 L1567.0,789.4 L1570.0,786.7 L1573.0,784.0 L1576.0,781.3 L1579.0,778.5 L1582.0,775.8 L1585.0,773.1 L1588.0,770.3 L1591.0,767.6 L1594.0,764.8 L1597.0,762.1 L1600.0,759.3 L1603.0,756.5 L1606.0,753.8 L1609.0,751.0 L1612.0,748.2 L1615.0,745.5 L1618.0,742.7 L1621.0,739.9 L1624.0,737.1 L1627.0,734.3 L1630.0,731.6 L1633.0,728.8 L1636.0,726.0 L1639.0,723.2 L1642.0,720.3 L1645.0,717.5 L1648.0,714.7 L1651.0,711.9 L1654.0,709.1 L1657.0,706.3 L1660.0,703.4 L1663.0,700.6 L1666.0,697.8 L1669.0,694.9 L1672.0,692.1 L1675.0,689.3 L1678.0,686.4 L1681.0,683.6 L1684.0,680.7 L1687.0,677.8 L1690.0,675.0 L1693.0,672.1 L1696.0,669.3 L1699.0,666.4 L1702.0,663.5 L1705.0,660.6 L1708.0,657.8 L1711.0,654.9 L1714.0,652.0 L1717.0,649.1 L1720.0,646.2 L1723.0,643.3 L1726.0,640.4 L1729.0,637.5 L1732.0,634.6 L1735.0,631.7 L1738.0,628.8 L1741.0,625.9 L1744.0,623.0 L1747.0,620.0 L1750.0,617.1 L1753.0,614.2 L1756.0,611.3 L1759.0,608.3 L1762.0,605.4 L1765.0,602.5 L1768.0,599.5 L1771.0,596.6 L1774.0,593.7 L1777.0,590.7 L1780.0,587.8 L1783.0,584.8 L1786.0,581.9 L1789.0,578.9 L1792.0,575.9 L1795.0,573.0 L1798.0,570.0 L1801.0,567.0 L1804.0,564.0 L1807.0,561.1 L1810.0,558.1 L1813.0,555.1 L1816.0,552.1 L1819.0,549.2 L1822.0,546.2 L1825.0,543.2 L1828.0,540.3 L1831.0,537.3 L1834.0,534.3 L1837.0,531.4 L1840.0,528.4 L1843.0,525.4 L1846.0,522.5 L1849.0,519.5 L1852.0,516.5 L1855.0,513.6 L1858.0,510.6 L1861.0,507.7 L1864.0,504.8 L1867.0,501.8 L1870.0,498.9 L1873.0,496.0 L1876.0,493.1 L1879.0,490.3 L1882.0,487.4 L1885.0,484.6 L1888.0,481.7 L1891.0,478.9 L1894.0,476.1 L1897.0,473.4 L1900.0,470.7 L1903.0,468.0 L1906.0,465.3 L1909.0,462.6 L1912.0,460.0 L1915.0,457.4 L1918.0,454.9 L1921.0,452.7 L1924.0,450.6 L1927.0,448.7 L1930.0,447.0 L1933.0,445.3 L1936.0,443.7 L1939.0,442.0 L1942.0,440.4 L1945.0,438.8 L1948.0,437.2 L1951.0,435.7 L1954.0,434.2 L1957.0,432.8 L1960.0,431.5 L1963.0,430.1 L1966.0,428.8 L1969.0,427.5 L1972.0,426.4 L1975.0,425.4 L1978.0,424.7 L1981.0,424.2 L1984.0,423.8 L1987.0,423.6 L1990.0,423.6 L1993.0,423.5 L1996.0,423.5 L1999.0,423.5" fill="none" stroke="#d00000" stroke-width="6.0" stroke-dasharray="41.6 18.5 8 18.46" stroke-dashoffset="1.1"/>
<path d="M232.0,1425.0 L235.0,1425.0 L238.0,1425.0 L241.0,1425.0 L244.0,1425.0 L247.0,1425.0 L250.0,1425.0 L253.0,1425.0 L256.0,1425.0 L259.0,1425.0 L262.0,1425.0 L265.0,1425.0 L268.0,1425.0 L271.0,1425.0 L274.0,1424.9 L277.0,1424.9 L280.0,1424.9 L283.0,1424.9 L286.0,1424.9 L289.0,1424.9 L292.0,1424.9 L295.0,1424.9 L298.0,1424.9 L301.0,1424.9 L304.0,1424.9 L307.0,1424.9 L310.0,1424.8 L313.0,1424.8 L316.0,1424.8 L319.0,1424.8 L322.0,1424.8 L325.0,1424.8 L328.0,1424.8 L331.0,1424.8 L334.0,1424.8 L337.0,1424.7 L340.0,1424.7 L343.0,1424.7 L346.0,1424.7 L349.0,1424.7 L352.0,1424.7 L355.0,1424.7 L358.0,1424.6 L361.0,1424.6 L364.0,1424.6 L367.0,1424.6 L370.0,1424.6 L373.0,1424.6 L376.0,1424.6 L379.0,1424.5 L382.0,1424.5 L385.0,1424.5 L388.0,1424.5 L391.0,1424.5 L394.0,1424.5 L397.0,1424.4 L400.0,1424.4 L403.0,1424.4 L406.0,1424.4 L409.0,1424.4 L412.0,1424.4 L415.0,1424.3 L418.0,1424.3 L421.0,1424.3 L424.0,1424.3 L427.0,1424.3 L430.0,1424.2 L433.0,1424.2 L436.0,1424.2 L439.0,1424.2 L442.0,1424.2 L445.0,1424.2 L448.0,1424.1 L451.0,1424.1 L454.0,1424.1 L457.0,1424.1 L460.0,1424.1 L463.0,1424.0 L466.0,1424.0 L469.0,1424.0 L472.0,1424.0 L475.0,1424.0 L478.0,1423.9 L481.0,1423.9 L484.0,1423.9 L487.0,1423.9 L490.0,1423.9 L493.0,1423.8 L496.0,1423.8 L499.0,1423.8 L502.0,1423.8 L505.0,1423.8 L508.0,1423.7 L511.0,1423.7 L514.0,1423.7 L517.0,1423.7 L520.0,1423.7 L523.0,1423.6 L526.0,1423.6 L529.0,1423.6 L532.0,1423.6 L535.0,1423.5 L538.0,1423.5 L541.0,1423.5 L544.0,1423.5 L547.0,1423.4 L550.0,1423.4 L553.0,1423.4 L556.0,1423.3 L559.0,1423.3 L562.0,1423.3 L565.0,1423.2 L568.0,1423.2 L571.0,1423.2 L574.0,1423.2 L577.0,1423.1 L580.0,1423.1 L583.0,1423.1 L586.0,1423.0 L589.0,1423.0 L592.0,1423.0 L595.0,1422.9 L598.0,1422.9 L601.0,1422.8 L604.0,1422.8 L607.0,1422.8 L610.0,1422.7 L613.0,1422.7 L616.0,1422.7 L619.0,1422.6 L622.0,1422.6 L625.0,1422.5 L628.0,1422.5 L631.0,1422.5 L634.0,1422.4 L637.0,1422.4 L640.0,1422.4 L643.0,1422.3 L646.0,1422.3 L649.0,1422.2 L652.0,1422.2 L655.0,1422.1 L658.0,1422.1 L661.0,1422.1 L664.0,1422.0 L667.0,1422.0 L670.0,1421.9 L673.0,1421.9 L676.0,1421.9 L679.0,1421.8 L682.0,1421.8 L685.0,1421.7 L688.0,1421.7 L691.0,1421.6 L694.0,1421.6 L697.0,1421.5 L700.0,1421.5 L703.0,1421.5 L706.0,1421.4 L709.0,1421.4 L712.0,1421.3 L715.0,1421.3 L718.0,1421.2 L721.0,1421.2 L724.0,1421.1 L727.0,1421.1 L730.0,1421.0 L733.0,1421.0 L736.0,1420.9 L739.0,1420.9 L742.0,1420.8 L745.0,1420.8 L748.0,1420.7 L751.0,1420.7 L754.0,1420.6 L757.0,1420.6 L760.0,1420.5 L763.0,1420.5 L766.0,1420.4 L769.0,1420.4 L772.0,1420.3 L775.0,1420.3 L778.0,1420.2 L781.0,1420.2 L784.0,1420.1 L787.0,1420.0 L790.0,1420.0 L793.0,1419.9 L796.0,1419.9 L799.0,1419.8 L802.0,1419.7 L805.0,1419.7 L808.0,1419.6 L811.0,1419.6 L814.0,1419.5 L817.0,1419.4 L820.0,1419.4 L823.0,1419.3 L826.0,1419.2 L829.0,1419.2 L832.0,1419.1 L835.0,1419.0 L838.0,1419.0 L841.0,1418.9 L844.0,1418.8 L847.0,1418.7 L850.0,1418.7 L853.0,1418.6 L856.0,1418.5 L859.0,1418.4 L862.0,1418.4 L865.0,1418.3 L868.0,1418.2 L871.0,1418.1 L874.0,1418.0 L877.0,1418.0 L880.0,1417.9 L883.0,1417.8 L886.0,1417.7 L889.0,1417.6 L892.0,1417.5 L895.0,1417.4 L898.0,1417.4 L901.0,1417.3 L904.0,1417.2 L907.0,1417.1 L910.0,1417.0 L913.0,1416.9 L916.0,1416.8 L919.0,1416.7 L922.0,1416.6 L925.0,1416.5 L928.0,1416.3 L931.0,1416.2 L934.0,1416.1 L937.0,1416.0 L940.0,1415.9 L943.0,1415.7 L946.0,1415.6 L949.0,1415.5 L952.0,1415.3 L955.0,1415.2 L958.0,1415.1 L961.0,1414.9 L964.0,1414.8 L967.0,1414.6 L970.0,1414.5 L973.0,1414.3 L976.0,1414.2 L979.0,1414.0 L982.0,1413.9 L985.0,1413.7 L988.0,1413.6 L991.0,1413.4 L994.0,1413.2 L997.0,1413.1 L1000.0,1412.9 L1003.0,1412.7 L1006.0,1412.5 L1009.0,1412.4 L1012.0,1412.2 L1015.0,1412.0 L1018.0,1411.8 L1021.0,1411.7 L1024.0,1411.5 L1027.0,1411.3 L1030.0,1411.1 L1033.0,1410.9 L1036.0,1410.7 L1039.0,1410.5 L1042.0,1410.3 L1045.0,1410.1 L1048.0,1409.9 L1051.0,1409.7 L1054.0,1409.5 L1057.0,1409.3 L1060.0,1409.1 L1063.0,1408.8 L1066.0,1408.6 L1069.0,1408.4 L1072.0,1408.2 L1075.0,1407.9 L1078.0,1407.7 L1081.0,1407.4 L1084.0,1407.2 L1087.0,1406.9 L1090.0,1406.7 L1093.0,1406.4 L1096.0,1406.1 L1099.0,1405.9 L1102.0,1405.6 L1105.0,1405.3 L1108.0,1405.0 L1111.0,1404.7 L1114.0,1404.4 L1117.0,1404.1 L1120.0,1403.8 L1123.0,1403.5 L1126.0,1403.2 L1129.0,1402.9 L1132.0,1402.6 L1135.0,1402.3 L1138.0,1402.0 L1141.0,1401.6 L1144.0,1401.3 L1147.0,1401.0 L1150.0,1400.7 L1153.0,1400.3 L1156.0,1400.0 L1159.0,1399.6 L1162.0,1399.3 L1165.0,1398.9 L1168.0,1398.6 L1171.0,1398.2 L1174.0,1397.9 L1177.0,1397.5 L1180.0,1397.1 L1183.0,1396.8 L1186.0,1396.4 L1189.0,1396.0 L1192.0,1395.6 L1195.0,1395.2 L1198.0,1394.8 L1201.0,1394.4 L1204.0,1394.0 L1207.0,1393.6 L1210.0,1393.2 L1213.0,1392.8 L1216.0,1392.4 L1219.0,1391.9 L1222.0,1391.5 L1225.0,1391.0 L1228.0,1390.6 L1231.0,1390.1 L1234.0,1389.6 L1237.0,1389.1 L1240.0,1388.6 L1243.0,1388.1 L1246.0,1387.6 L1249.0,1387.1 L1252.0,1386.6 L1255.0,1386.1 L1258.0,1385.5 L1261.0,1385.0 L1264.0,1384.5 L1267.0,1383.9 L1270.0,1383.3 L1273.0,1382.8 L1276.0,1382.2 L1279.0,1381.7 L1282.0,1381.1 L1285.0,1380.5 L1288.0,1379.9 L1291.0,1379.3 L1294.0,1378.8 L1297.0,1378.2 L1300.0,1377.6 L1303.0,1377.0 L1306.0,1376.4 L1309.0,1375.8 L1312.0,1375.2 L1315.0,1374.5 L1318.0,1373.9 L1321.0,1373.3 L1324.0,1372.7 L1327.0,1372.1 L1330.0,1371.5 L1333.0,1370.9 L1336.0,1370.2 L1339.0,1369.6 L1342.0,1369.0 L1345.0,1368.4 L1348.0,1367.7 L1351.0,1367.1 L1354.0,1366.5 L1357.0,1365.9 L1360.0,1365.2 L1363.0,1364.6 L1366.0,1363.9 L1369.0,1363.3 L1372.0,1362.6 L1375.0,1362.0 L1378.0,1361.3 L1381.0,1360.6 L1384.0,1360.0 L1387.0,1359.3 L1390.0,1358.6 L1393.0,1357.9 L1396.0,1357.2 L1399.0,1356.6 L1402.0,1355.9 L1405.0,1355.2 L1408.0,1354.5 L1411.0,1353.7 L1414.0,1353.0 L1417.0,1352.3 L1420.0,1351.6 L1423.0,1350.9 L1426.0,1350.1 L1429.0,1349.4 L1432.0,1348.7 L1435.0,1347.9 L1438.0,1347.2 L1441.0,1346.4 L1444.0,1345.7 L1447.0,1344.9 L1450.0,1344.2 L1453.0,1343.4 L1456.0,1342.6 L1459.0,1341.8 L1462.0,1341.1 L1465.0,1340.3 L1468.0,1339.5 L1471.0,1338.7 L1474.0,1337.9 L1477.0,1337.1 L1480.0,1336.3 L1483.0,1335.5 L1486.0,1334.7 L1489.0,1333.9 L1492.0,1333.1 L1495.0,1332.2 L1498.0,1331.4 L1501.0,1330.6 L1504.0,1329.7 L1507.0,1328.9 L1510.0,1328.0 L1513.0,1327.2 L1516.0,1326.3 L1519.0,1325.4 L1522.0,1324.5 L1525.0,1323.7 L1528.0,1322.7 L1531.0,1321.8 L1534.0,1320.9 L1537.0,1320.0 L1540.0,1319.0 L1543.0,1318.1 L1546.0,1317.1 L1549.0,1316.2 L1552.0,1315.2 L1555.0,1314.2 L1558.0,1313.2 L1561.0,1312.1 L1564.0,1311.1 L1567.0,1310.0 L1570.0,1309.0 L1573.0,1307.9 L1576.0,1306.8 L1579.0,1305.7 L1582.0,1304.6 L1585.0,1303.4 L1588.0,1302.2 L1591.0,1301.0 L1594.0,1299.8 L1597.0,1298.6 L1600.0,1297.3 L1603.0,1296.1 L1606.0,1294.8 L1609.0,1293.5 L1612.0,1292.2 L1615.0,1290.9 L1618.0,1289.6 L1621.0,1288.3 L1624.0,1287.0 L1627.0,1285.6 L1630.0,1284.2 L1633.0,1282.9 L1636.0,1281.5 L1639.0,1280.1 L1642.0,1278.7 L1645.0,1277.3 L1648.0,1275.9 L1651.0,1274.5 L1654.0,1273.0 L1657.0,1271.6 L1660.0,1270.1 L1663.0,1268.6 L1666.0,1267.2 L1669.0,1265.7 L1672.0,1264.2 L1675.0,1262.7 L1678.0,1261.2 L1681.0,1259.7 L1684.0,1258.1 L1687.0,1256.6 L1690.0,1255.0 L1693.0,1253.5 L1696.0,1251.9 L1699.0,1250.4 L1702.0,1248.8 L1705.0,1247.3 L1708.0,1245.8 L1711.0,1244.2 L1714.0,1242.7 L1717.0,1241.2 L1720.0,1239.6 L1723.0,1238.1 L1726.0,1236.5 L1729.0,1234.9 L1732.0,1233.4 L1735.0,1231.8 L1738.0,1230.2 L1741.0,1228.5 L1744.0,1226.9 L1747.0,1225.3 L1750.0,1223.6 L1753.0,1222.0 L1756.0,1220.3 L1759.0,1218.6 L1762.0,1216.9 L1765.0,1215.2 L1768.0,1213.4 L1771.0,1211.6 L1774.0,1209.8 L1777.0,1208.0 L1780.0,1206.2 L1783.0,1204.4 L1786.0,1202.6 L1789.0,1200.8 L1792.0,1199.0 L1795.0,1197.3 L1798.0,1195.6 L1801.0,1193.9 L1804.0,1192.2 L1807.0,1190.5 L1810.0,1188.8 L1813.0,1187.0 L1816.0,1185.3 L1819.0,1183.5 L1822.0,1181.7 L1825.0,1179.9 L1828.0,1178.0 L1831.0,1176.1 L1834.0,1174.2 L1837.0,1172.2 L1840.0,1170.3 L1843.0,1168.3 L1846.0,1166.3 L1849.0,1164.4 L1852.0,1162.4 L1855.0,1160.4 L1858.0,1158.5 L1861.0,1156.6 L1864.0,1154.7 L1867.0,1152.8 L1870.0,1150.9 L1873.0,1149.0 L1876.0,1147.1 L1879.0,1145.2 L1882.0,1143.2 L1885.0,1141.3 L1888.0,1139.3 L1891.0,1137.3 L1894.0,1135.3 L1897.0,1133.2 L1900.0,1131.2 L1903.0,1129.2 L1906.0,1127.2 L1909.0,1125.3 L1912.0,1123.5 L1915.0,1121.6 L1918.0,1119.7 L1921.0,1117.9 L1924.0,1116.1 L1927.0,1114.4 L1930.0,1112.8 L1933.0,1111.4 L1936.0,1110.0 L1939.0,1108.7 L1942.0,1107.5 L1945.0,1106.3 L1948.0,1105.2 L1951.0,1104.2 L1954.0,1103.2 L1957.0,1102.2 L1960.0,1101.2 L1963.0,1100.2 L1966.0,1099.1 L1969.0,1098.2 L1972.0,1097.6 L1975.0,1097.5 L1978.0,1097.4 L1981.0,1097.4 L1984.0,1097.4 L1987.0,1097.4 L1990.0,1097.4 L1993.0,1097.4 L1996.0,1097.4 L1999.0,1097.4" fill="none" stroke="#3030ff" stroke-width="5.0"/>
<path d="M232.0,1427.0 L235.0,1427.0 L238.0,1427.0 L241.0,1427.0 L244.0,1427.0 L247.0,1427.0 L250.0,1427.0 L253.0,1427.0 L256.0,1427.0 L259.0,1427.0 L262.0,1427.0 L265.0,1427.0 L268.0,1427.0 L271.0,1427.0 L274.0,1426.9 L277.0,1426.9 L280.0,1426.9 L283.0,1426.9 L286.0,1426.9 L289.0,1426.9 L292.0,1426.9 L295.0,1426.9 L298.0,1426.9 L301.0,1426.9 L304.0,1426.9 L307.0,1426.9 L310.0,1426.8 L313.0,1426.8 L316.0,1426.8 L319.0,1426.8 L322.0,1426.8 L325.0,1426.8 L328.0,1426.8 L331.0,1426.8 L334.0,1426.8 L337.0,1426.7 L340.0,1426.7 L343.0,1426.7 L346.0,1426.7 L349.0,1426.7 L352.0,1426.7 L355.0,1426.7 L358.0,1426.6 L361.0,1426.6 L364.0,1426.6 L367.0,1426.6 L370.0,1426.6 L373.0,1426.6 L376.0,1426.6 L379.0,1426.5 L382.0,1426.5 L385.0,1426.5 L388.0,1426.5 L391.0,1426.5 L394.0,1426.5 L397.0,1426.4 L400.0,1426.4 L403.0,1426.4 L406.0,1426.4 L409.0,1426.4 L412.0,1426.4 L415.0,1426.3 L418.0,1426.3 L421.0,1426.3 L424.0,1426.3 L427.0,1426.3 L430.0,1426.2 L433.0,1426.2 L436.0,1426.2 L439.0,1426.2 L442.0,1426.2 L445.0,1426.2 L448.0,1426.1 L451.0,1426.1 L454.0,1426.1 L457.0,1426.1 L460.0,1426.1 L463.0,1426.0 L466.0,1426.0 L469.0,1426.0 L472.0,1426.0 L475.0,1426.0 L478.0,1425.9 L481.0,1425.9 L484.0,1425.9 L487.0,1425.9 L490.0,1425.9 L493.0,1425.8 L496.0,1425.8 L499.0,1425.8 L502.0,1425.8 L505.0,1425.8 L508.0,1425.7 L511.0,1425.7 L514.0,1425.7 L517.0,1425.7 L520.0,1425.7 L523.0,1425.6 L526.0,1425.6 L529.0,1425.6 L532.0,1425.6 L535.0,1425.5 L538.0,1425.5 L541.0,1425.5 L544.0,1425.5 L547.0,1425.4 L550.0,1425.4 L553.0,1425.4 L556.0,1425.3 L559.0,1425.3 L562.0,1425.3 L565.0,1425.2 L568.0,1425.2 L571.0,1425.2 L574.0,1425.2 L577.0,1425.1 L580.0,1425.1 L583.0,1425.1 L586.0,1425.0 L589.0,1425.0 L592.0,1425.0 L595.0,1424.9 L598.0,1424.9 L601.0,1424.8 L604.0,1424.8 L607.0,1424.8 L610.0,1424.7 L613.0,1424.7 L616.0,1424.7 L619.0,1424.6 L622.0,1424.6 L625.0,1424.5 L628.0,1424.5 L631.0,1424.5 L634.0,1424.4 L637.0,1424.4 L640.0,1424.4 L643.0,1424.3 L646.0,1424.3 L649.0,1424.2 L652.0,1424.2 L655.0,1424.1 L658.0,1424.1 L661.0,1424.1 L664.0,1424.0 L667.0,1424.0 L670.0,1423.9 L673.0,1423.9 L676.0,1423.9 L679.0,1423.8 L682.0,1423.8 L685.0,1423.7 L688.0,1423.7 L691.0,1423.6 L694.0,1423.6 L697.0,1423.5 L700.0,1423.5 L703.0,1423.5 L706.0,1423.4 L709.0,1423.4 L712.0,1423.3 L715.0,1423.3 L718.0,1423.2 L721.0,1423.2 L724.0,1423.1 L727.0,1423.1 L730.0,1423.0 L733.0,1423.0 L736.0,1422.9 L739.0,1422.9 L742.0,1422.8 L745.0,1422.8 L748.0,1422.7 L751.0,1422.7 L754.0,1422.6 L757.0,1422.6 L760.0,1422.5 L763.0,1422.5 L766.0,1422.4 L769.0,1422.4 L772.0,1422.3 L775.0,1422.3 L778.0,1422.2 L781.0,1422.2 L784.0,1422.1 L787.0,1422.0 L790.0,1422.0 L793.0,1421.9 L796.0,1421.9 L799.0,1421.8 L802.0,1421.7 L805.0,1421.7 L808.0,1421.6 L811.0,1421.6 L814.0,1421.5 L817.0,1421.4 L820.0,1421.4 L823.0,1421.3 L826.0,1421.2 L829.0,1421.2 L832.0,1421.1 L835.0,1421.0 L838.0,1421.0 L841.0,1420.9 L844.0,1420.8 L847.0,1420.7 L850.0,1420.7 L853.0,1420.6 L856.0,1420.5 L859.0,1420.4 L862.0,1420.4 L865.0,1420.3 L868.0,1420.2 L871.0,1420.1 L874.0,1420.0 L877.0,1420.0 L880.0,1419.9 L883.0,1419.8 L886.0,1419.7 L889.0,1419.6 L892.0,1419.5 L895.0,1419.4 L898.0,1419.4 L901.0,1419.3 L904.0,1419.2 L907.0,1419.1 L910.0,1419.0 L913.0,1418.9 L916.0,1418.8 L919.0,1418.7 L922.0,1418.6 L925.0,1418.5 L928.0,1418.3 L931.0,1418.2 L934.0,1418.1 L937.0,1418.0 L940.0,1417.9 L943.0,1417.7 L946.0,1417.6 L949.0,1417.5 L952.0,1417.3 L955.0,1417.2 L958.0,1417.1 L961.0,1416.9 L964.0,1416.8 L967.0,1416.6 L970.0,1416.5 L973.0,1416.3 L976.0,1416.2 L979.0,1416.0 L982.0,1415.9 L985.0,1415.7 L988.0,1415.6 L991.0,1415.4 L994.0,1415.2 L997.0,1415.1 L1000.0,1414.9 L1003.0,1414.7 L1006.0,1414.5 L1009.0,1414.4 L1012.0,1414.2 L1015.0,1414.0 L1018.0,1413.8 L1021.0,1413.7 L1024.0,1413.5 L1027.0,1413.3 L1030.0,1413.1 L1033.0,1412.9 L1036.0,1412.7 L1039.0,1412.5 L1042.0,1412.3 L1045.0,1412.1 L1048.0,1411.9 L1051.0,1411.7 L1054.0,1411.5 L1057.0,1411.3 L1060.0,1411.1 L1063.0,1410.9 L1066.0,1410.6 L1069.0,1410.4 L1072.0,1410.2 L1075.0,1409.9 L1078.0,1409.7 L1081.0,1409.4 L1084.0,1409.2 L1087.0,1408.9 L1090.0,1408.7 L1093.0,1408.4 L1096.0,1408.2 L1099.0,1407.9 L1102.0,1407.6 L1105.0,1407.3 L1108.0,1407.0 L1111.0,1406.8 L1114.0,1406.5 L1117.0,1406.2 L1120.0,1405.9 L1123.0,1405.6 L1126.0,1405.3 L1129.0,1405.0 L1132.0,1404.6 L1135.0,1404.3 L1138.0,1404.0 L1141.0,1403.7 L1144.0,1403.4 L1147.0,1403.0 L1150.0,1402.7 L1153.0,1402.4 L1156.0,1402.0 L1159.0,1401.7 L1162.0,1401.3 L1165.0,1401.0 L1168.0,1400.6 L1171.0,1400.3 L1174.0,1399.9 L1177.0,1399.5 L1180.0,1399.2 L1183.0,1398.8 L1186.0,1398.4 L1189.0,1398.1 L1192.0,1397.7 L1195.0,1397.3 L1198.0,1396.9 L1201.0,1396.5 L1204.0,1396.1 L1207.0,1395.7 L1210.0,1395.3 L1213.0,1394.9 L1216.0,1394.4 L1219.0,1394.0 L1222.0,1393.6 L1225.0,1393.1 L1228.0,1392.6 L1231.0,1392.2 L1234.0,1391.7 L1237.0,1391.2 L1240.0,1390.7 L1243.0,1390.2 L1246.0,1389.7 L1249.0,1389.2 L1252.0,1388.7 L1255.0,1388.1 L1258.0,1387.6 L1261.0,1387.1 L1264.0,1386.5 L1267.0,1386.0 L1270.0,1385.4 L1273.0,1384.9 L1276.0,1384.3 L1279.0,1383.7 L1282.0,1383.1 L1285.0,1382.6 L1288.0,1382.0 L1291.0,1381.4 L1294.0,1380.8 L1297.0,1380.2 L1300.0,1379.6 L1303.0,1379.0 L1306.0,1378.4 L1309.0,1377.8 L1312.0,1377.2 L1315.0,1376.6 L1318.0,1376.0 L1321.0,1375.4 L1324.0,1374.8 L1327.0,1374.2 L1330.0,1373.5 L1333.0,1372.9 L1336.0,1372.3 L1339.0,1371.7 L1342.0,1371.0 L1345.0,1370.4 L1348.0,1369.8 L1351.0,1369.2 L1354.0,1368.5 L1357.0,1367.9 L1360.0,1367.2 L1363.0,1366.6 L1366.0,1366.0 L1369.0,1365.3 L1372.0,1364.7 L1375.0,1364.0 L1378.0,1363.3 L1381.0,1362.7 L1384.0,1362.0 L1387.0,1361.3 L1390.0,1360.6 L1393.0,1359.9 L1396.0,1359.2 L1399.0,1358.5 L1402.0,1357.8 L1405.0,1357.1 L1408.0,1356.4 L1411.0,1355.7 L1414.0,1355.0 L1417.0,1354.3 L1420.0,1353.6 L1423.0,1352.8 L1426.0,1352.1 L1429.0,1351.4 L1432.0,1350.6 L1435.0,1349.9 L1438.0,1349.1 L1441.0,1348.4 L1444.0,1347.6 L1447.0,1346.8 L1450.0,1346.1 L1453.0,1345.3 L1456.0,1344.5 L1459.0,1343.7 L1462.0,1342.9 L1465.0,1342.2 L1468.0,1341.4 L1471.0,1340.6 L1474.0,1339.8 L1477.0,1339.0 L1480.0,1338.1 L1483.0,1337.3 L1486.0,1336.5 L1489.0,1335.7 L1492.0,1334.8 L1495.0,1334.0 L1498.0,1333.2 L1501.0,1332.3 L1504.0,1331.5 L1507.0,1330.6 L1510.0,1329.8 L1513.0,1328.9 L1516.0,1328.0 L1519.0,1327.1 L1522.0,1326.2 L1525.0,1325.3 L1528.0,1324.4 L1531.0,1323.5 L1534.0,1322.6 L1537.0,1321.6 L1540.0,1320.7 L1543.0,1319.7 L1546.0,1318.7 L1549.0,1317.7 L1552.0,1316.7 L1555.0,1315.7 L1558.0,1314.7 L1561.0,1313.7 L1564.0,1312.6 L1567.0,1311.5 L1570.0,1310.5 L1573.0,1309.4 L1576.0,1308.3 L1579.0,1307.1 L1582.0,1306.0 L1585.0,1304.8 L1588.0,1303.6 L1591.0,1302.4 L1594.0,1301.2 L1597.0,1299.9 L1600.0,1298.7 L1603.0,1297.4 L1606.0,1296.1 L1609.0,1294.8 L1612.0,1293.5 L1615.0,1292.2 L1618.0,1290.9 L1621.0,1289.5 L1624.0,1288.2 L1627.0,1286.8 L1630.0,1285.4 L1633.0,1284.1 L1636.0,1282.7 L1639.0,1281.2 L1642.0,1279.8 L1645.0,1278.4 L1648.0,1277.0 L1651.0,1275.5 L1654.0,1274.1 L1657.0,1272.6 L1660.0,1271.1 L1663.0,1269.7 L1666.0,1268.2 L1669.0,1266.7 L1672.0,1265.1 L1675.0,1263.6 L1678.0,1262.1 L1681.0,1260.5 L1684.0,1259.0 L1687.0,1257.4 L1690.0,1255.8 L1693.0,1254.2 L1696.0,1252.7 L1699.0,1251.1 L1702.0,1249.5 L1705.0,1247.9 L1708.0,1246.4 L1711.0,1244.8 L1714.0,1243.2 L1717.0,1241.7 L1720.0,1240.1 L1723.0,1238.5 L1726.0,1236.9 L1729.0,1235.3 L1732.0,1233.7 L1735.0,1232.1 L1738.0,1230.4 L1741.0,1228.8 L1744.0,1227.1 L1747.0,1225.4 L1750.0,1223.8 L1753.0,1222.1 L1756.0,1220.4 L1759.0,1218.6 L1762.0,1216.9 L1765.0,1215.1 L1768.0,1213.4 L1771.0,1211.6 L1774.0,1209.8 L1777.0,1208.0 L1780.0,1206.1 L1783.0,1204.3 L1786.0,1202.4 L1789.0,1200.6 L1792.0,1198.7 L1795.0,1196.8 L1798.0,1194.9 L1801.0,1193.0 L1804.0,1191.1 L1807.0,1189.1 L1810.0,1187.2 L1813.0,1185.2 L1816.0,1183.3 L1819.0,1181.3 L1822.0,1179.3 L1825.0,1177.3 L1828.0,1175.3 L1831.0,1173.2 L1834.0,1171.2 L1837.0,1169.1 L1840.0,1167.0 L1843.0,1165.0 L1846.0,1162.9 L1849.0,1160.8 L1852.0,1158.7 L1855.0,1156.6 L1858.0,1154.5 L1861.0,1152.4 L1864.0,1150.3 L1867.0,1148.2 L1870.0,1146.1 L1873.0,1144.0 L1876.0,1141.9 L1879.0,1139.9 L1882.0,1137.8 L1885.0,1135.8 L1888.0,1133.8 L1891.0,1131.7 L1894.0,1129.7 L1897.0,1127.7 L1900.0,1125.6 L1903.0,1123.7 L1906.0,1121.7 L1909.0,1119.8 L1912.0,1117.9 L1915.0,1116.1 L1918.0,1114.3 L1921.0,1112.5 L1924.0,1110.7 L1927.0,1109.0 L1930.0,1107.3 L1933.0,1105.7 L1936.0,1104.0 L1939.0,1102.4 L1942.0,1100.9 L1945.0,1099.4 L1948.0,1098.1 L1951.0,1096.8 L1954.0,1095.7 L1957.0,1094.6 L1960.0,1093.7 L1963.0,1092.7 L1966.0,1091.7 L1969.0,1090.8 L1972.0,1090.0 L1975.0,1089.4 L1978.0,1089.0 L1981.0,1088.8 L1984.0,1088.8 L1987.0,1088.7 L1990.0,1088.7 L1993.0,1088.7 L1996.0,1088.7 L1999.0,1088.7" fill="none" stroke="#00d000" stroke-width="5.0"/>
<path d="M232.0,1426.0 L235.0,1426.0 L238.0,1426.0 L241.0,1426.0 L244.0,1426.0 L247.0,1426.0 L250.0,1426.0 L253.0,1426.0 L256.0,1426.0 L259.0,1426.0 L262.0,1426.0 L265.0,1426.0 L268.0,1426.0 L271.0,1426.0 L274.0,1425.9 L277.0,1425.9 L280.0,1425.9 L283.0,1425.9 L286.0,1425.9 L289.0,1425.9 L292.0,1425.9 L295.0,1425.9 L298.0,1425.9 L301.0,1425.9 L304.0,1425.9 L307.0,1425.9 L310.0,1425.8 L313.0,1425.8 L316.0,1425.8 L319.0,1425.8 L322.0,1425.8 L325.0,1425.8 L328.0,1425.8 L331.0,1425.8 L334.0,1425.8 L337.0,1425.7 L340.0,1425.7 L343.0,1425.7 L346.0,1425.7 L349.0,1425.7 L352.0,1425.7 L355.0,1425.7 L358.0,1425.6 L361.0,1425.6 L364.0,1425.6 L367.0,1425.6 L370.0,1425.6 L373.0,1425.6 L376.0,1425.6 L379.0,1425.5 L382.0,1425.5 L385.0,1425.5 L388.0,1425.5 L391.0,1425.5 L394.0,1425.5 L397.0,1425.4 L400.0,1425.4 L403.0,1425.4 L406.0,1425.4 L409.0,1425.4 L412.0,1425.4 L415.0,1425.3 L418.0,1425.3 L421.0,1425.3 L424.0,1425.3 L427.0,1425.3 L430.0,1425.2 L433.0,1425.2 L436.0,1425.2 L439.0,1425.2 L442.0,1425.2 L445.0,1425.2 L448.0,1425.1 L451.0,1425.1 L454.0,1425.1 L457.0,1425.1 L460.0,1425.1 L463.0,1425.0 L466.0,1425.0 L469.0,1425.0 L472.0,1425.0 L475.0,1425.0 L478.0,1424.9 L481.0,1424.9 L484.0,1424.9 L487.0,1424.9 L490.0,1424.9 L493.0,1424.8 L496.0,1424.8 L499.0,1424.8 L502.0,1424.8 L505.0,1424.8 L508.0,1424.7 L511.0,1424.7 L514.0,1424.7 L517.0,1424.7 L520.0,1424.7 L523.0,1424.6 L526.0,1424.6 L529.0,1424.6 L532.0,1424.6 L535.0,1424.5 L538.0,1424.5 L541.0,1424.5 L544.0,1424.5 L547.0,1424.4 L550.0,1424.4 L553.0,1424.4 L556.0,1424.3 L559.0,1424.3 L562.0,1424.3 L565.0,1424.2 L568.0,1424.2 L571.0,1424.2 L574.0,1424.2 L577.0,1424.1 L580.0,1424.1 L583.0,1424.1 L586.0,1424.0 L589.0,1424.0 L592.0,1424.0 L595.0,1423.9 L598.0,1423.9 L601.0,1423.8 L604.0,1423.8 L607.0,1423.8 L610.0,1423.7 L613.0,1423.7 L616.0,1423.7 L619.0,1423.6 L622.0,1423.6 L625.0,1423.5 L628.0,1423.5 L631.0,1423.5 L634.0,1423.4 L637.0,1423.4 L640.0,1423.4 L643.0,1423.3 L646.0,1423.3 L649.0,1423.2 L652.0,1423.2 L655.0,1423.1 L658.0,1423.1 L661.0,1423.1 L664.0,1423.0 L667.0,1423.0 L670.0,1422.9 L673.0,1422.9 L676.0,1422.9 L679.0,1422.8 L682.0,1422.8 L685.0,1422.7 L688.0,1422.7 L691.0,1422.6 L694.0,1422.6 L697.0,1422.5 L700.0,1422.5 L703.0,1422.5 L706.0,1422.4 L709.0,1422.4 L712.0,1422.3 L715.0,1422.3 L718.0,1422.2 L721.0,1422.2 L724.0,1422.1 L727.0,1422.1 L730.0,1422.0 L733.0,1422.0 L736.0,1421.9 L739.0,1421.9 L742.0,1421.8 L745.0,1421.8 L748.0,1421.7 L751.0,1421.7 L754.0,1421.6 L757.0,1421.6 L760.0,1421.5 L763.0,1421.5 L766.0,1421.4 L769.0,1421.4 L772.0,1421.3 L775.0,1421.3 L778.0,1421.2 L781.0,1421.2 L784.0,1421.1 L787.0,1421.0 L790.0,1421.0 L793.0,1420.9 L796.0,1420.9 L799.0,1420.8 L802.0,1420.7 L805.0,1420.7 L808.0,1420.6 L811.0,1420.6 L814.0,1420.5 L817.0,1420.4 L820.0,1420.4 L823.0,1420.3 L826.0,1420.2 L829.0,1420.2 L832.0,1420.1 L835.0,1420.0 L838.0,1420.0 L841.0,1419.9 L844.0,1419.8 L847.0,1419.7 L850.0,1419.7 L853.0,1419.6 L856.0,1419.5 L859.0,1419.4 L862.0,1419.4 L865.0,1419.3 L868.0,1419.2 L871.0,1419.1 L874.0,1419.0 L877.0,1419.0 L880.0,1418.9 L883.0,1418.8 L886.0,1418.7 L889.0,1418.6 L892.0,1418.5 L895.0,1418.4 L898.0,1418.4 L901.0,1418.3 L904.0,1418.2 L907.0,1418.1 L910.0,1418.0 L913.0,1417.9 L916.0,1417.8 L919.0,1417.7 L922.0,1417.6 L925.0,1417.5 L928.0,1417.3 L931.0,1417.2 L934.0,1417.1 L937.0,1417.0 L940.0,1416.9 L943.0,1416.7 L946.0,1416.6 L949.0,1416.5 L952.0,1416.3 L955.0,1416.2 L958.0,1416.1 L961.0,1415.9 L964.0,1415.8 L967.0,1415.6 L970.0,1415.5 L973.0,1415.3 L976.0,1415.2 L979.0,1415.0 L982.0,1414.9 L985.0,1414.7 L988.0,1414.6 L991.0,1414.4 L994.0,1414.2 L997.0,1414.1 L1000.0,1413.9 L1003.0,1413.7 L1006.0,1413.5 L1009.0,1413.4 L1012.0,1413.2 L1015.0,1413.0 L1018.0,1412.8 L1021.0,1412.7 L1024.0,1412.5 L1027.0,1412.3 L1030.0,1412.1 L1033.0,1411.9 L1036.0,1411.7 L1039.0,1411.5 L1042.0,1411.3 L1045.0,1411.1 L1048.0,1410.9 L1051.0,1410.7 L1054.0,1410.5 L1057.0,1410.3 L1060.0,1410.1 L1063.0,1409.9 L1066.0,1409.7 L1069.0,1409.4 L1072.0,1409.2 L1075.0,1409.0 L1078.0,1408.7 L1081.0,1408.5 L1084.0,1408.2 L1087.0,1408.0 L1090.0,1407.7 L1093.0,1407.5 L1096.0,1407.2 L1099.0,1406.9 L1102.0,1406.7 L1105.0,1406.4 L1108.0,1406.1 L1111.0,1405.8 L1114.0,1405.5 L1117.0,1405.2 L1120.0,1404.9 L1123.0,1404.6 L1126.0,1404.3 L1129.0,1404.0 L1132.0,1403.7 L1135.0,1403.4 L1138.0,1403.1 L1141.0,1402.8 L1144.0,1402.4 L1147.0,1402.1 L1150.0,1401.8 L1153.0,1401.5 L1156.0,1401.1 L1159.0,1400.8 L1162.0,1400.4 L1165.0,1400.1 L1168.0,1399.7 L1171.0,1399.4 L1174.0,1399.0 L1177.0,1398.7 L1180.0,1398.3 L1183.0,1397.9 L1186.0,1397.6 L1189.0,1397.2 L1192.0,1396.8 L1195.0,1396.4 L1198.0,1396.1 L1201.0,1395.7 L1204.0,1395.3 L1207.0,1394.9 L1210.0,1394.5 L1213.0,1394.0 L1216.0,1393.6 L1219.0,1393.2 L1222.0,1392.7 L1225.0,1392.3 L1228.0,1391.8 L1231.0,1391.4 L1234.0,1390.9 L1237.0,1390.4 L1240.0,1389.9 L1243.0,1389.4 L1246.0,1388.9 L1249.0,1388.4 L1252.0,1387.9 L1255.0,1387.4 L1258.0,1386.8 L1261.0,1386.3 L1264.0,1385.8 L1267.0,1385.2 L1270.0,1384.7 L1273.0,1384.1 L1276.0,1383.6 L1279.0,1383.0 L1282.0,1382.4 L1285.0,1381.9 L1288.0,1381.3 L1291.0,1380.7 L1294.0,1380.1 L1297.0,1379.5 L1300.0,1378.9 L1303.0,1378.4 L1306.0,1377.8 L1309.0,1377.2 L1312.0,1376.6 L1315.0,1375.9 L1318.0,1375.3 L1321.0,1374.7 L1324.0,1374.1 L1327.0,1373.5 L1330.0,1372.9 L1333.0,1372.3 L1336.0,1371.7 L1339.0,1371.0 L1342.0,1370.4 L1345.0,1369.8 L1348.0,1369.2 L1351.0,1368.6 L1354.0,1367.9 L1357.0,1367.3 L1360.0,1366.7 L1363.0,1366.0 L1366.0,1365.4 L1369.0,1364.8 L1372.0,1364.1 L1375.0,1363.4 L1378.0,1362.8 L1381.0,1362.1 L1384.0,1361.4 L1387.0,1360.8 L1390.0,1360.1 L1393.0,1359.4 L1396.0,1358.7 L1399.0,1358.0 L1402.0,1357.3 L1405.0,1356.6 L1408.0,1355.9 L1411.0,1355.2 L1414.0,1354.5 L1417.0,1353.8 L1420.0,1353.1 L1423.0,1352.4 L1426.0,1351.6 L1429.0,1350.9 L1432.0,1350.2 L1435.0,1349.4 L1438.0,1348.7 L1441.0,1347.9 L1444.0,1347.2 L1447.0,1346.4 L1450.0,1345.7 L1453.0,1344.9 L1456.0,1344.1 L1459.0,1343.3 L1462.0,1342.6 L1465.0,1341.8 L1468.0,1341.0 L1471.0,1340.2 L1474.0,1339.4 L1477.0,1338.6 L1480.0,1337.8 L1483.0,1337.0 L1486.0,1336.2 L1489.0,1335.3 L1492.0,1334.5 L1495.0,1333.7 L1498.0,1332.9 L1501.0,1332.0 L1504.0,1331.2 L1507.0,1330.3 L1510.0,1329.5 L1513.0,1328.6 L1516.0,1327.7 L1519.0,1326.8 L1522.0,1326.0 L1525.0,1325.1 L1528.0,1324.1 L1531.0,1323.2 L1534.0,1322.3 L1537.0,1321.4 L1540.0,1320.4 L1543.0,1319.4 L1546.0,1318.5 L1549.0,1317.5 L1552.0,1316.5 L1555.0,1315.5 L1558.0,1314.5 L1561.0,1313.4 L1564.0,1312.4 L1567.0,1311.3 L1570.0,1310.3 L1573.0,1309.2 L1576.0,1308.1 L1579.0,1307.0 L1582.0,1305.8 L1585.0,1304.6 L1588.0,1303.5 L1591.0,1302.3 L1594.0,1301.0 L1597.0,1299.8 L1600.0,1298.5 L1603.0,1297.3 L1606.0,1296.0 L1609.0,1294.7 L1612.0,1293.4 L1615.0,1292.1 L1618.0,1290.7 L1621.0,1289.4 L1624.0,1288.0 L1627.0,1286.7 L1630.0,1285.3 L1633.0,1283.9 L1636.0,1282.5 L1639.0,1281.1 L1642.0,1279.7 L1645.0,1278.3 L1648.0,1276.9 L1651.0,1275.5 L1654.0,1274.1 L1657.0,1272.6 L1660.0,1271.1 L1663.0,1269.6 L1666.0,1268.1 L1669.0,1266.6 L1672.0,1265.1 L1675.0,1263.5 L1678.0,1262.0 L1681.0,1260.4 L1684.0,1258.9 L1687.0,1257.3 L1690.0,1255.7 L1693.0,1254.2 L1696.0,1252.6 L1699.0,1251.0 L1702.0,1249.5 L1705.0,1247.9 L1708.0,1246.3 L1711.0,1244.8 L1714.0,1243.2 L1717.0,1241.6 L1720.0,1240.0 L1723.0,1238.5 L1726.0,1236.9 L1729.0,1235.3 L1732.0,1233.7 L1735.0,1232.0 L1738.0,1230.4 L1741.0,1228.8 L1744.0,1227.1 L1747.0,1225.5 L1750.0,1223.8 L1753.0,1222.1 L1756.0,1220.4 L1759.0,1218.6 L1762.0,1216.9 L1765.0,1215.1 L1768.0,1213.4 L1771.0,1211.6 L1774.0,1209.8 L1777.0,1208.0 L1780.0,1206.1 L1783.0,1204.3 L1786.0,1202.4 L1789.0,1200.6 L1792.0,1198.7 L1795.0,1196.8 L1798.0,1194.9 L1801.0,1193.0 L1804.0,1191.1 L1807.0,1189.2 L1810.0,1187.2 L1813.0,1185.3 L1816.0,1183.3 L1819.0,1181.3 L1822.0,1179.3 L1825.0,1177.3 L1828.0,1175.2 L1831.0,1173.2 L1834.0,1171.1 L1837.0,1169.0 L1840.0,1166.9 L1843.0,1164.8 L1846.0,1162.8 L1849.0,1160.7 L1852.0,1158.6 L1855.0,1156.5 L1858.0,1154.4 L1861.0,1152.3 L1864.0,1150.2 L1867.0,1148.2 L1870.0,1146.1 L1873.0,1144.0 L1876.0,1142.0 L1879.0,1139.9 L1882.0,1137.8 L1885.0,1135.8 L1888.0,1133.8 L1891.0,1131.7 L1894.0,1129.7 L1897.0,1127.6 L1900.0,1125.6 L1903.0,1123.6 L1906.0,1121.7 L1909.0,1119.8 L1912.0,1117.9 L1915.0,1116.1 L1918.0,1114.2 L1921.0,1112.4 L1924.0,1110.6 L1927.0,1108.9 L1930.0,1107.3 L1933.0,1105.8 L1936.0,1104.5 L1939.0,1103.2 L1942.0,1102.0 L1945.0,1100.8 L1948.0,1099.7 L1951.0,1098.6 L1954.0,1097.7 L1957.0,1096.8 L1960.0,1096.0 L1963.0,1095.3 L1966.0,1094.6 L1969.0,1093.9 L1972.0,1093.3 L1975.0,1092.8 L1978.0,1092.4 L1981.0,1092.2 L1984.0,1092.0 L1987.0,1091.9 L1990.0,1091.8 L1993.0,1091.8 L1996.0,1091.7 L1999.0,1091.7" fill="none" stroke="#d00000" stroke-width="6.0"/>
</g>
<g fill="#000" shape-rendering="crispEdges">
<rect x="227" y="24" width="10" height="1669"/>
<rect x="1994" y="24" width="10" height="1669"/>
<rect x="232" y="1687" width="1828" height="10"/>
<rect x="561" y="1648" width="10" height="40"/>
<rect x="1039" y="1648" width="10" height="40"/>
<rect x="1516" y="1648" width="10" height="40"/>
<rect x="278" y="1666" width="3" height="22"/>
<rect x="373" y="1666" width="3" height="22"/>
<rect x="469" y="1666" width="3" height="22"/>
<rect x="660" y="1666" width="3" height="22"/>
<rect x="756" y="1666" width="3" height="22"/>
<rect x="851" y="1666" width="3" height="22"/>
<rect x="947" y="1666" width="3" height="22"/>
<rect x="1138" y="1666" width="3" height="22"/>
<rect x="1233" y="1666" width="3" height="22"/>
<rect x="1329" y="1666" width="3" height="22"/>
<rect x="1424" y="1666" width="3" height="22"/>
<rect x="1615" y="1666" width="3" height="22"/>
<rect x="1711" y="1666" width="3" height="22"/>
<rect x="1806" y="1666" width="3" height="22"/>
<rect x="1902" y="1666" width="3" height="22"/>
<rect x="236" y="1369" width="40" height="10"/>
<rect x="236" y="772" width="40" height="10"/>
<rect x="236" y="175" width="40" height="9"/>
<rect x="236" y="1612" width="23" height="3"/>
<rect x="236" y="1492" width="23" height="3"/>
<rect x="236" y="1253" width="23" height="3"/>
<rect x="236" y="1134" width="23" height="3"/>
<rect x="236" y="1014" width="23" height="3"/>
<rect x="236" y="894" width="23" height="3"/>
<rect x="236" y="656" width="23" height="3"/>
<rect x="236" y="536" width="23" height="3"/>
<rect x="236" y="416" width="23" height="3"/>
<rect x="236" y="297" width="23" height="3"/>
<rect x="236" y="58" width="23" height="3"/>
</g>
<g>
<g transform="scale(0.9506,1)"><text x="547.59 585.86 604.97" y="1758.2" font-size="68.8" fill="#000" stroke="#000" stroke-width="0.5">0.7</text></g>
<g transform="scale(0.9506,1)"><text x="1050.08 1088.35 1107.46" y="1758.2" font-size="68.8" fill="#000" stroke="#000" stroke-width="0.5">0.8</text></g>
<g transform="scale(0.9506,1)"><text x="1552.57 1590.84 1609.95" y="1758.2" font-size="68.8" fill="#000" stroke="#000" stroke-width="0.5">0.9</text></g>
<g transform="scale(0.9506,1)"><text x="2086.80" y="1758.2" font-size="68.8" fill="#000" stroke="#000" stroke-width="0.5">1</text><g fill="#fff"><rect x="2089.04" y="1750.56" width="14.81" height="10.14"/><rect x="2110.43" y="1750.56" width="14.52" height="10.14"/></g></g>
<g transform="scale(0.9506,1)"><text x="183.44" y="1395.8" font-size="68.8" fill="#000" stroke="#000" stroke-width="0.5">1</text><g fill="#fff"><rect x="185.68" y="1388.16" width="14.81" height="10.14"/><rect x="207.07" y="1388.16" width="14.52" height="10.14"/></g></g>
<g transform="scale(0.9506,1)"><text x="87.80 123.01 142.12 180.39" y="799.1" font-size="68.8" fill="#000" stroke="#000" stroke-width="0.5">1.25</text><g fill="#fff"><rect x="90.04" y="791.46" width="14.81" height="10.14"/><rect x="111.43" y="791.46" width="14.52" height="10.14"/></g></g>
<g transform="scale(0.9506,1)"><text x="126.06 161.27 180.39" y="201.6" font-size="68.8" fill="#000" stroke="#000" stroke-width="0.5">1.5</text><g fill="#fff"><rect x="128.30" y="193.96" width="14.81" height="10.14"/><rect x="149.69" y="193.96" width="14.52" height="10.14"/></g></g>
<g transform="scale(0.973,1)"><text x="483.62 505.57 552.61 573.25 595.71 641.50 684.33 706.92 748.39 766.29 807.64 825.51 872.59 890.26 914.83 957.65 976.43 1022.67 1048.32 1064.58 1106.81 1125.28 1171.00 1216.19 1273.57 1319.87 1339.34" y="135.9" font-size="77.0" font-weight="bold" fill="#000"><tspan font-size="79.8">I</tspan>n the vicinity of sidewall</text></g>
<g transform="scale(0.9423,1)"><text x="454.66 500.86 548.30 591.79 616.87 660.36 680.79 727.54 774.98" y="376.4" font-size="78.2" font-weight="bold" fill="#3030ff">100 x 200</text><g fill="#fff"><rect x="456.59" y="365.92" width="16.33" height="12.98"/><rect x="483.64" y="365.92" width="15.33" height="12.98"/></g></g>
<g transform="scale(0.9423,1)"><text x="454.66 501.43 548.30 591.79 616.87 660.36 680.88 727.54 774.98" y="448.6" font-size="78.2" font-weight="bold" fill="#00d000">150 x 300</text><g fill="#fff"><rect x="456.59" y="438.12" width="16.33" height="12.98"/><rect x="483.64" y="438.12" width="15.33" height="12.98"/></g></g>
<g transform="scale(0.9423,1)"><text x="453.58 500.86 548.30 591.79 616.87 660.36 680.04 727.54 774.98" y="523.9" font-size="78.2" font-weight="bold" fill="#d00000">200 x 400</text></g>
<g transform="scale(0.9423,1)"><text x="1761.92 1809.84 1857.38" y="232.5" font-size="78.2" font-weight="bold" fill="#000">200</text></g>
<g transform="scale(0.9423,1)"><text x="1788.06 1835.95" y="782.8" font-size="78.2" font-weight="bold" fill="#000">60</text></g>
<g transform="scale(0.9423,1)"><text x="1812.83 1858.23" y="1173.9" font-size="78.2" font-weight="bold" fill="#000">10</text><g fill="#fff"><rect x="1814.75" y="1163.42" width="16.33" height="12.98"/><rect x="1841.81" y="1163.42" width="15.33" height="12.98"/></g></g>
<g transform="scale(0.975,1)"><text x="1145.12" y="1831.7" font-size="82.5" font-weight="bold" fill="#000">R</text></g>
<text transform="translate(86.2,859) rotate(-90)" font-size="82.5" text-anchor="middle" font-weight="bold">Z</text>
</g>
</svg>
</body></html>
